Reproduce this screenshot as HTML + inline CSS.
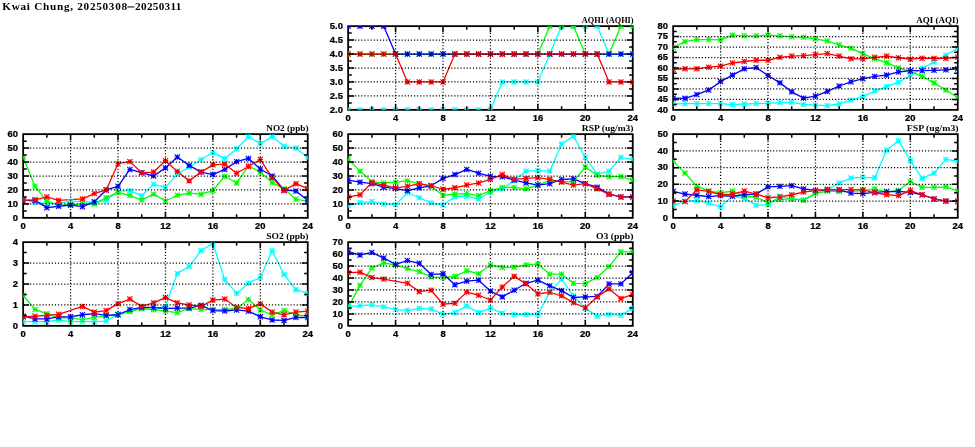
<!DOCTYPE html><html><head><meta charset="utf-8"><style>html,body{margin:0;padding:0;background:#fff;width:975px;height:447px;overflow:hidden}svg{display:block;will-change:transform}</style></head><body>
<svg width="975" height="447" viewBox="0 0 975 447">
<rect width="975" height="447" fill="#fff"/>
<g font-family="Liberation Serif" font-weight="bold" font-size="11.2" fill="#000"><text x="2.3" y="10.4" textLength="124.8" lengthAdjust="spacing">Kwai Chung, 20250308</text><rect x="127.3" y="6.4" width="7" height="1.05"/><text x="135.1" y="10.4" textLength="46.2" lengthAdjust="spacing">20250311</text></g>
<defs><clipPath id="c0"><rect x="23.15" y="134.15" width="284.6" height="83.7"/></clipPath><clipPath id="c1"><rect x="23.15" y="242.15" width="284.6" height="83.7"/></clipPath><clipPath id="c2"><rect x="348.15" y="26.15" width="284.6" height="83.7"/></clipPath><clipPath id="c3"><rect x="348.15" y="134.15" width="284.6" height="83.7"/></clipPath><clipPath id="c4"><rect x="348.15" y="242.15" width="284.6" height="83.7"/></clipPath><clipPath id="c5"><rect x="673.15" y="26.15" width="284.6" height="83.7"/></clipPath><clipPath id="c6"><rect x="673.15" y="134.15" width="284.6" height="83.7"/></clipPath></defs>
<g clip-path="url(#c0)"><polyline fill="none" stroke="#00ffff" stroke-width="1.3" stroke-linejoin="round" points="23.15,199.02 35.01,202.51 46.87,203.48 58.73,203.48 70.58,201.39 82.44,201.39 94.3,202.51 106.16,200.41 118.02,191.35 129.88,190.65 141.73,195.67 153.59,184.23 165.45,187.44 177.31,174.19 189.17,166.93 201.03,159.54 212.88,152.56 224.74,158.42 236.6,148.94 248.46,136.52 260.32,143.92 272.18,136.52 284.03,146.29 295.89,148.1 307.75,157.45"/><polyline fill="none" stroke="#00ff00" stroke-width="1.3" stroke-linejoin="round" points="23.15,157.45 35.01,186.32 46.87,201.39 58.73,205.3 70.58,204.6 82.44,203.9 94.3,203.9 106.16,197.62 118.02,192.46 129.88,195.53 141.73,199.99 153.59,194.14 165.45,200.97 177.31,195.25 189.17,193.16 201.03,194.14 212.88,190.65 224.74,176.28 236.6,182.98 248.46,165.82 260.32,172.09 272.18,182.56 284.03,188.83 295.89,199.3 307.75,201.11"/><polyline fill="none" stroke="#0000ff" stroke-width="1.3" stroke-linejoin="round" points="23.15,200.41 35.01,200.41 46.87,207.67 58.73,206.27 70.58,205.16 82.44,206.69 94.3,201.81 106.16,189.95 118.02,186.32 129.88,169.44 141.73,172.65 153.59,176 165.45,167.91 177.31,157.03 189.17,165.4 201.03,172.09 212.88,174.61 224.74,169.44 236.6,161.63 248.46,158.42 260.32,169.03 272.18,176 284.03,189.95 295.89,191.07 307.75,200.41"/><polyline fill="none" stroke="#ff0000" stroke-width="1.3" stroke-linejoin="round" points="23.15,200.41 35.01,199.85 46.87,196.93 58.73,200.41 82.44,198.88 94.3,193.58 106.16,189.95 118.02,163.72 129.88,161.63 141.73,172.65 153.59,172.09 165.45,160.66 177.31,171.4 189.17,180.88 201.03,172.09 212.88,164.84 224.74,164.14 236.6,173.21 248.46,166.51 260.32,159.54 272.18,177.67 284.03,190.65 295.89,183.67 307.75,188.56"/></g><rect x="23.15" y="134.15" width="284.6" height="83.7" fill="none" stroke="#000" stroke-width="1.8"/><g clip-path="url(#c0)"><path fill="none" stroke="#00ffff" stroke-width="1.1" d="M20.55 196.42L25.75 201.62M20.55 201.62L25.75 196.42M20.55 199.02L25.75 199.02M23.15 196.42L23.15 201.62M32.41 199.91L37.61 205.11M32.41 205.11L37.61 199.91M32.41 202.51L37.61 202.51M35.01 199.91L35.01 205.11M44.27 200.88L49.47 206.08M44.27 206.08L49.47 200.88M44.27 203.48L49.47 203.48M46.87 200.88L46.87 206.08M56.12 200.88L61.33 206.08M56.12 206.08L61.33 200.88M56.12 203.48L61.33 203.48M58.73 200.88L58.73 206.08M67.98 198.79L73.18 203.99M67.98 203.99L73.18 198.79M67.98 201.39L73.18 201.39M70.58 198.79L70.58 203.99M79.84 198.79L85.04 203.99M79.84 203.99L85.04 198.79M79.84 201.39L85.04 201.39M82.44 198.79L82.44 203.99M91.7 199.91L96.9 205.11M91.7 205.11L96.9 199.91M91.7 202.51L96.9 202.51M94.3 199.91L94.3 205.11M103.56 197.81L108.76 203.01M103.56 203.01L108.76 197.81M103.56 200.41L108.76 200.41M106.16 197.81L106.16 203.01M115.42 188.75L120.62 193.95M115.42 193.95L120.62 188.75M115.42 191.35L120.62 191.35M118.02 188.75L118.02 193.95M127.28 188.05L132.47 193.25M127.28 193.25L132.47 188.05M127.28 190.65L132.47 190.65M129.88 188.05L129.88 193.25M139.13 193.07L144.33 198.27M139.13 198.27L144.33 193.07M139.13 195.67L144.33 195.67M141.73 193.07L141.73 198.27M150.99 181.63L156.19 186.83M150.99 186.83L156.19 181.63M150.99 184.23L156.19 184.23M153.59 181.63L153.59 186.83M162.85 184.84L168.05 190.04M162.85 190.04L168.05 184.84M162.85 187.44L168.05 187.44M165.45 184.84L165.45 190.04M174.71 171.59L179.91 176.79M174.71 176.79L179.91 171.59M174.71 174.19L179.91 174.19M177.31 171.59L177.31 176.79M186.57 164.33L191.77 169.53M186.57 169.53L191.77 164.33M186.57 166.93L191.77 166.93M189.17 164.33L189.17 169.53M198.43 156.94L203.62 162.14M198.43 162.14L203.62 156.94M198.43 159.54L203.62 159.54M201.03 156.94L201.03 162.14M210.28 149.96L215.48 155.16M210.28 155.16L215.48 149.96M210.28 152.56L215.48 152.56M212.88 149.96L212.88 155.16M222.14 155.82L227.34 161.02M222.14 161.02L227.34 155.82M222.14 158.42L227.34 158.42M224.74 155.82L224.74 161.02M234 146.34L239.2 151.54M234 151.54L239.2 146.34M234 148.94L239.2 148.94M236.6 146.34L236.6 151.54M245.86 133.92L251.06 139.12M245.86 139.12L251.06 133.92M245.86 136.52L251.06 136.52M248.46 133.92L248.46 139.12M257.72 141.32L262.92 146.52M257.72 146.52L262.92 141.32M257.72 143.92L262.92 143.92M260.32 141.32L260.32 146.52M269.57 133.92L274.78 139.12M269.57 139.12L274.78 133.92M269.57 136.52L274.78 136.52M272.18 133.92L272.18 139.12M281.43 143.69L286.63 148.89M281.43 148.89L286.63 143.69M281.43 146.29L286.63 146.29M284.03 143.69L284.03 148.89M293.29 145.5L298.49 150.7M293.29 150.7L298.49 145.5M293.29 148.1L298.49 148.1M295.89 145.5L295.89 150.7M305.15 154.85L310.35 160.05M305.15 160.05L310.35 154.85M305.15 157.45L310.35 157.45M307.75 154.85L307.75 160.05"/><path fill="none" stroke="#00ff00" stroke-width="1.1" d="M20.55 154.85L25.75 160.05M20.55 160.05L25.75 154.85M20.55 157.45L25.75 157.45M23.15 154.85L23.15 160.05M32.41 183.72L37.61 188.92M32.41 188.92L37.61 183.72M32.41 186.32L37.61 186.32M35.01 183.72L35.01 188.92M44.27 198.79L49.47 203.99M44.27 203.99L49.47 198.79M44.27 201.39L49.47 201.39M46.87 198.79L46.87 203.99M56.12 202.7L61.33 207.9M56.12 207.9L61.33 202.7M56.12 205.3L61.33 205.3M58.73 202.7L58.73 207.9M67.98 202L73.18 207.2M67.98 207.2L73.18 202M67.98 204.6L73.18 204.6M70.58 202L70.58 207.2M79.84 201.3L85.04 206.5M79.84 206.5L85.04 201.3M79.84 203.9L85.04 203.9M82.44 201.3L82.44 206.5M91.7 201.3L96.9 206.5M91.7 206.5L96.9 201.3M91.7 203.9L96.9 203.9M94.3 201.3L94.3 206.5M103.56 195.02L108.76 200.22M103.56 200.22L108.76 195.02M103.56 197.62L108.76 197.62M106.16 195.02L106.16 200.22M115.42 189.86L120.62 195.06M115.42 195.06L120.62 189.86M115.42 192.46L120.62 192.46M118.02 189.86L118.02 195.06M127.28 192.93L132.47 198.13M127.28 198.13L132.47 192.93M127.28 195.53L132.47 195.53M129.88 192.93L129.88 198.13M139.13 197.39L144.33 202.59M139.13 202.59L144.33 197.39M139.13 199.99L144.33 199.99M141.73 197.39L141.73 202.59M150.99 191.54L156.19 196.74M150.99 196.74L156.19 191.54M150.99 194.14L156.19 194.14M153.59 191.54L153.59 196.74M162.85 198.37L168.05 203.57M162.85 203.57L168.05 198.37M162.85 200.97L168.05 200.97M165.45 198.37L165.45 203.57M174.71 192.65L179.91 197.85M174.71 197.85L179.91 192.65M174.71 195.25L179.91 195.25M177.31 192.65L177.31 197.85M186.57 190.56L191.77 195.76M186.57 195.76L191.77 190.56M186.57 193.16L191.77 193.16M189.17 190.56L189.17 195.76M198.43 191.54L203.62 196.74M198.43 196.74L203.62 191.54M198.43 194.14L203.62 194.14M201.03 191.54L201.03 196.74M210.28 188.05L215.48 193.25M210.28 193.25L215.48 188.05M210.28 190.65L215.48 190.65M212.88 188.05L212.88 193.25M222.14 173.68L227.34 178.88M222.14 178.88L227.34 173.68M222.14 176.28L227.34 176.28M224.74 173.68L224.74 178.88M234 180.38L239.2 185.58M234 185.58L239.2 180.38M234 182.98L239.2 182.98M236.6 180.38L236.6 185.58M245.86 163.22L251.06 168.42M245.86 168.42L251.06 163.22M245.86 165.82L251.06 165.82M248.46 163.22L248.46 168.42M257.72 169.49L262.92 174.69M257.72 174.69L262.92 169.49M257.72 172.09L262.92 172.09M260.32 169.49L260.32 174.69M269.57 179.96L274.78 185.16M269.57 185.16L274.78 179.96M269.57 182.56L274.78 182.56M272.18 179.96L272.18 185.16M281.43 186.23L286.63 191.43M281.43 191.43L286.63 186.23M281.43 188.83L286.63 188.83M284.03 186.23L284.03 191.43M293.29 196.7L298.49 201.9M293.29 201.9L298.49 196.7M293.29 199.3L298.49 199.3M295.89 196.7L295.89 201.9M305.15 198.51L310.35 203.71M305.15 203.71L310.35 198.51M305.15 201.11L310.35 201.11M307.75 198.51L307.75 203.71"/><path fill="none" stroke="#0000ff" stroke-width="1.1" d="M20.55 197.81L25.75 203.01M20.55 203.01L25.75 197.81M20.55 200.41L25.75 200.41M23.15 197.81L23.15 203.01M32.41 197.81L37.61 203.01M32.41 203.01L37.61 197.81M32.41 200.41L37.61 200.41M35.01 197.81L35.01 203.01M44.27 205.07L49.47 210.27M44.27 210.27L49.47 205.07M44.27 207.67L49.47 207.67M46.87 205.07L46.87 210.27M56.12 203.67L61.33 208.87M56.12 208.87L61.33 203.67M56.12 206.27L61.33 206.27M58.73 203.67L58.73 208.87M67.98 202.56L73.18 207.76M67.98 207.76L73.18 202.56M67.98 205.16L73.18 205.16M70.58 202.56L70.58 207.76M79.84 204.09L85.04 209.29M79.84 209.29L85.04 204.09M79.84 206.69L85.04 206.69M82.44 204.09L82.44 209.29M91.7 199.21L96.9 204.41M91.7 204.41L96.9 199.21M91.7 201.81L96.9 201.81M94.3 199.21L94.3 204.41M103.56 187.35L108.76 192.55M103.56 192.55L108.76 187.35M103.56 189.95L108.76 189.95M106.16 187.35L106.16 192.55M115.42 183.72L120.62 188.92M115.42 188.92L120.62 183.72M115.42 186.32L120.62 186.32M118.02 183.72L118.02 188.92M127.28 166.84L132.47 172.04M127.28 172.04L132.47 166.84M127.28 169.44L132.47 169.44M129.88 166.84L129.88 172.04M139.13 170.05L144.33 175.25M139.13 175.25L144.33 170.05M139.13 172.65L144.33 172.65M141.73 170.05L141.73 175.25M150.99 173.4L156.19 178.6M150.99 178.6L156.19 173.4M150.99 176L156.19 176M153.59 173.4L153.59 178.6M162.85 165.31L168.05 170.51M162.85 170.51L168.05 165.31M162.85 167.91L168.05 167.91M165.45 165.31L165.45 170.51M174.71 154.43L179.91 159.63M174.71 159.63L179.91 154.43M174.71 157.03L179.91 157.03M177.31 154.43L177.31 159.63M186.57 162.8L191.77 168M186.57 168L191.77 162.8M186.57 165.4L191.77 165.4M189.17 162.8L189.17 168M198.43 169.49L203.62 174.69M198.43 174.69L203.62 169.49M198.43 172.09L203.62 172.09M201.03 169.49L201.03 174.69M210.28 172.01L215.48 177.21M210.28 177.21L215.48 172.01M210.28 174.61L215.48 174.61M212.88 172.01L212.88 177.21M222.14 166.84L227.34 172.04M222.14 172.04L227.34 166.84M222.14 169.44L227.34 169.44M224.74 166.84L224.74 172.04M234 159.03L239.2 164.23M234 164.23L239.2 159.03M234 161.63L239.2 161.63M236.6 159.03L236.6 164.23M245.86 155.82L251.06 161.02M245.86 161.02L251.06 155.82M245.86 158.42L251.06 158.42M248.46 155.82L248.46 161.02M257.72 166.43L262.92 171.63M257.72 171.63L262.92 166.43M257.72 169.03L262.92 169.03M260.32 166.43L260.32 171.63M269.57 173.4L274.78 178.6M269.57 178.6L274.78 173.4M269.57 176L274.78 176M272.18 173.4L272.18 178.6M281.43 187.35L286.63 192.55M281.43 192.55L286.63 187.35M281.43 189.95L286.63 189.95M284.03 187.35L284.03 192.55M293.29 188.47L298.49 193.67M293.29 193.67L298.49 188.47M293.29 191.07L298.49 191.07M295.89 188.47L295.89 193.67M305.15 197.81L310.35 203.01M305.15 203.01L310.35 197.81M305.15 200.41L310.35 200.41M307.75 197.81L307.75 203.01"/><path fill="none" stroke="#ff0000" stroke-width="1.1" d="M20.55 197.81L25.75 203.01M20.55 203.01L25.75 197.81M20.55 200.41L25.75 200.41M23.15 197.81L23.15 203.01M32.41 197.25L37.61 202.45M32.41 202.45L37.61 197.25M32.41 199.85L37.61 199.85M35.01 197.25L35.01 202.45M44.27 194.33L49.47 199.53M44.27 199.53L49.47 194.33M44.27 196.93L49.47 196.93M46.87 194.33L46.87 199.53M56.12 197.81L61.33 203.01M56.12 203.01L61.33 197.81M56.12 200.41L61.33 200.41M58.73 197.81L58.73 203.01M79.84 196.28L85.04 201.48M79.84 201.48L85.04 196.28M79.84 198.88L85.04 198.88M82.44 196.28L82.44 201.48M91.7 190.98L96.9 196.18M91.7 196.18L96.9 190.98M91.7 193.58L96.9 193.58M94.3 190.98L94.3 196.18M103.56 187.35L108.76 192.55M103.56 192.55L108.76 187.35M103.56 189.95L108.76 189.95M106.16 187.35L106.16 192.55M115.42 161.12L120.62 166.32M115.42 166.32L120.62 161.12M115.42 163.72L120.62 163.72M118.02 161.12L118.02 166.32M127.28 159.03L132.47 164.23M127.28 164.23L132.47 159.03M127.28 161.63L132.47 161.63M129.88 159.03L129.88 164.23M139.13 170.05L144.33 175.25M139.13 175.25L144.33 170.05M139.13 172.65L144.33 172.65M141.73 170.05L141.73 175.25M150.99 169.49L156.19 174.69M150.99 174.69L156.19 169.49M150.99 172.09L156.19 172.09M153.59 169.49L153.59 174.69M162.85 158.06L168.05 163.26M162.85 163.26L168.05 158.06M162.85 160.66L168.05 160.66M165.45 158.06L165.45 163.26M174.71 168.8L179.91 174M174.71 174L179.91 168.8M174.71 171.4L179.91 171.4M177.31 168.8L177.31 174M186.57 178.28L191.77 183.48M186.57 183.48L191.77 178.28M186.57 180.88L191.77 180.88M189.17 178.28L189.17 183.48M198.43 169.49L203.62 174.69M198.43 174.69L203.62 169.49M198.43 172.09L203.62 172.09M201.03 169.49L201.03 174.69M210.28 162.24L215.48 167.44M210.28 167.44L215.48 162.24M210.28 164.84L215.48 164.84M212.88 162.24L212.88 167.44M222.14 161.54L227.34 166.74M222.14 166.74L227.34 161.54M222.14 164.14L227.34 164.14M224.74 161.54L224.74 166.74M234 170.61L239.2 175.81M234 175.81L239.2 170.61M234 173.21L239.2 173.21M236.6 170.61L236.6 175.81M245.86 163.91L251.06 169.11M245.86 169.11L251.06 163.91M245.86 166.51L251.06 166.51M248.46 163.91L248.46 169.11M257.72 156.94L262.92 162.14M257.72 162.14L262.92 156.94M257.72 159.54L262.92 159.54M260.32 156.94L260.32 162.14M269.57 175.07L274.78 180.27M269.57 180.27L274.78 175.07M269.57 177.67L274.78 177.67M272.18 175.07L272.18 180.27M281.43 188.05L286.63 193.25M281.43 193.25L286.63 188.05M281.43 190.65L286.63 190.65M284.03 188.05L284.03 193.25M293.29 181.07L298.49 186.27M293.29 186.27L298.49 181.07M293.29 183.67L298.49 183.67M295.89 181.07L295.89 186.27M305.15 185.96L310.35 191.16M305.15 191.16L310.35 185.96M305.15 188.56L310.35 188.56M307.75 185.96L307.75 191.16"/></g><path fill="none" stroke="#000" stroke-width="1.25" stroke-dasharray="1.15 1.95" stroke-dashoffset="-0.76" d="M23.15 203.9H307.75M23.15 189.95H307.75M23.15 176H307.75M23.15 162.05H307.75M23.15 148.1H307.75"/><path fill="none" stroke="#000" stroke-width="1.25" stroke-dasharray="1.15 1.95" stroke-dashoffset="-0.42" d="M70.58 134.15V217.85M118.02 134.15V217.85M165.45 134.15V217.85M212.88 134.15V217.85M260.32 134.15V217.85"/><path fill="none" stroke="#000" stroke-width="1.5" d="M23.15 210.88h3.6M307.75 210.88h-3.6M23.15 203.9h6M307.75 203.9h-6M23.15 196.93h3.6M307.75 196.93h-3.6M23.15 189.95h6M307.75 189.95h-6M23.15 182.98h3.6M307.75 182.98h-3.6M23.15 176h6M307.75 176h-6M23.15 169.03h3.6M307.75 169.03h-3.6M23.15 162.05h6M307.75 162.05h-6M23.15 155.08h3.6M307.75 155.08h-3.6M23.15 148.1h6M307.75 148.1h-6M23.15 141.13h3.6M307.75 141.13h-3.6M46.87 217.85v-3.6M46.87 134.15v3.6M70.58 217.85v-6M70.58 134.15v6M94.3 217.85v-3.6M94.3 134.15v3.6M118.02 217.85v-6M118.02 134.15v6M141.73 217.85v-3.6M141.73 134.15v3.6M165.45 217.85v-6M165.45 134.15v6M189.17 217.85v-3.6M189.17 134.15v3.6M212.88 217.85v-6M212.88 134.15v6M236.6 217.85v-3.6M236.6 134.15v3.6M260.32 217.85v-6M260.32 134.15v6M284.03 217.85v-3.6M284.03 134.15v3.6"/><g font-family="Liberation Sans" font-weight="bold" font-size="8.2" stroke="#000" stroke-width="0.25" fill="#000"><text transform="translate(17.95 220.7) scale(1.15 1)" text-anchor="end">0</text><text transform="translate(17.95 206.75) scale(1.15 1)" text-anchor="end">10</text><text transform="translate(17.95 192.8) scale(1.15 1)" text-anchor="end">20</text><text transform="translate(17.95 178.85) scale(1.15 1)" text-anchor="end">30</text><text transform="translate(17.95 164.9) scale(1.15 1)" text-anchor="end">40</text><text transform="translate(17.95 150.95) scale(1.15 1)" text-anchor="end">50</text><text transform="translate(17.95 137) scale(1.15 1)" text-anchor="end">60</text><text transform="translate(23.15 228.85) scale(1.15 1)" text-anchor="middle">0</text><text transform="translate(70.58 228.85) scale(1.15 1)" text-anchor="middle">4</text><text transform="translate(118.02 228.85) scale(1.15 1)" text-anchor="middle">8</text><text transform="translate(165.45 228.85) scale(1.15 1)" text-anchor="middle">12</text><text transform="translate(212.88 228.85) scale(1.15 1)" text-anchor="middle">16</text><text transform="translate(260.32 228.85) scale(1.15 1)" text-anchor="middle">20</text><text transform="translate(307.75 228.85) scale(1.15 1)" text-anchor="middle">24</text></g><text x="308.55" y="130.75" text-anchor="end" font-family="Liberation Serif" font-weight="bold" font-size="8.6" textLength="42.3" lengthAdjust="spacingAndGlyphs" fill="#000">NO2 (ppb)</text>
<g clip-path="url(#c1)"><polyline fill="none" stroke="#00ffff" stroke-width="1.3" stroke-linejoin="round" points="23.15,321.67 35.01,321.67 46.87,321.67 58.73,319.99 70.58,321.67 82.44,321.67 94.3,321.67 106.16,321.04 118.02,314.13 129.88,311.2 141.73,308.48 153.59,309.53 165.45,306.39 177.31,273.54 189.17,266.63 201.03,250.52 212.88,243.61 224.74,279.61 236.6,293.42 248.46,283.16 260.32,277.51 272.18,250.73 284.03,274.37 295.89,289.65 307.75,293.42"/><polyline fill="none" stroke="#00ff00" stroke-width="1.3" stroke-linejoin="round" points="23.15,295.3 35.01,309.53 46.87,313.71 58.73,317.9 70.58,317.9 82.44,319.57 94.3,317.48 106.16,315.81 118.02,314.76 129.88,311.62 141.73,308.48 153.59,309.53 165.45,311.2 177.31,312.67 189.17,308.48 201.03,309.53 212.88,309.53 224.74,309.53 236.6,308.48 248.46,299.48 260.32,309.95 272.18,314.76 284.03,310.57 295.89,314.76 307.75,316.22"/><polyline fill="none" stroke="#0000ff" stroke-width="1.3" stroke-linejoin="round" points="23.15,316.22 35.01,318.94 46.87,318.94 58.73,316.85 70.58,316.85 82.44,314.76 94.3,313.71 106.16,315.39 118.02,314.76 129.88,309.53 141.73,307.44 153.59,307.44 165.45,308.48 177.31,308.06 189.17,308.06 201.03,305.34 212.88,310.57 224.74,310.99 236.6,309.95 248.46,311.2 260.32,316.85 272.18,319.99 284.03,320.41 295.89,317.48 307.75,317.48"/><polyline fill="none" stroke="#ff0000" stroke-width="1.3" stroke-linejoin="round" points="23.15,316.85 35.01,316.22 46.87,315.39 58.73,314.34 82.44,306.39 94.3,312.04 106.16,310.57 118.02,303.67 129.88,299.07 141.73,306.39 153.59,302.83 165.45,297.6 177.31,302.83 189.17,304.93 201.03,306.39 212.88,300.11 224.74,299.07 236.6,307.44 248.46,308.48 260.32,303.88 272.18,312.04 284.03,314.76 295.89,312.04 307.75,311.2"/></g><rect x="23.15" y="242.15" width="284.6" height="83.7" fill="none" stroke="#000" stroke-width="1.8"/><g clip-path="url(#c1)"><path fill="none" stroke="#00ffff" stroke-width="1.1" d="M20.55 319.06L25.75 324.27M20.55 324.27L25.75 319.06M20.55 321.67L25.75 321.67M23.15 319.06L23.15 324.27M32.41 319.06L37.61 324.27M32.41 324.27L37.61 319.06M32.41 321.67L37.61 321.67M35.01 319.06L35.01 324.27M44.27 319.06L49.47 324.27M44.27 324.27L49.47 319.06M44.27 321.67L49.47 321.67M46.87 319.06L46.87 324.27M56.12 317.39L61.33 322.59M56.12 322.59L61.33 317.39M56.12 319.99L61.33 319.99M58.73 317.39L58.73 322.59M67.98 319.06L73.18 324.27M67.98 324.27L73.18 319.06M67.98 321.67L73.18 321.67M70.58 319.06L70.58 324.27M79.84 319.06L85.04 324.27M79.84 324.27L85.04 319.06M79.84 321.67L85.04 321.67M82.44 319.06L82.44 324.27M91.7 319.06L96.9 324.27M91.7 324.27L96.9 319.06M91.7 321.67L96.9 321.67M94.3 319.06L94.3 324.27M103.56 318.44L108.76 323.64M103.56 323.64L108.76 318.44M103.56 321.04L108.76 321.04M106.16 318.44L106.16 323.64M115.42 311.53L120.62 316.73M115.42 316.73L120.62 311.53M115.42 314.13L120.62 314.13M118.02 311.53L118.02 316.73M127.28 308.6L132.47 313.8M127.28 313.8L132.47 308.6M127.28 311.2L132.47 311.2M129.88 308.6L129.88 313.8M139.13 305.88L144.33 311.08M139.13 311.08L144.33 305.88M139.13 308.48L144.33 308.48M141.73 305.88L141.73 311.08M150.99 306.93L156.19 312.13M150.99 312.13L156.19 306.93M150.99 309.53L156.19 309.53M153.59 306.93L153.59 312.13M162.85 303.79L168.05 308.99M162.85 308.99L168.05 303.79M162.85 306.39L168.05 306.39M165.45 303.79L165.45 308.99M174.71 270.94L179.91 276.14M174.71 276.14L179.91 270.94M174.71 273.54L179.91 273.54M177.31 270.94L177.31 276.14M186.57 264.03L191.77 269.23M186.57 269.23L191.77 264.03M186.57 266.63L191.77 266.63M189.17 264.03L189.17 269.23M198.43 247.92L203.62 253.12M198.43 253.12L203.62 247.92M198.43 250.52L203.62 250.52M201.03 247.92L201.03 253.12M210.28 241.01L215.48 246.21M210.28 246.21L215.48 241.01M210.28 243.61L215.48 243.61M212.88 241.01L212.88 246.21M222.14 277.01L227.34 282.21M222.14 282.21L227.34 277.01M222.14 279.61L227.34 279.61M224.74 277.01L224.74 282.21M234 290.82L239.2 296.02M234 296.02L239.2 290.82M234 293.42L239.2 293.42M236.6 290.82L236.6 296.02M245.86 280.56L251.06 285.76M245.86 285.76L251.06 280.56M245.86 283.16L251.06 283.16M248.46 280.56L248.46 285.76M257.72 274.91L262.92 280.11M257.72 280.11L262.92 274.91M257.72 277.51L262.92 277.51M260.32 274.91L260.32 280.11M269.57 248.13L274.78 253.33M269.57 253.33L274.78 248.13M269.57 250.73L274.78 250.73M272.18 248.13L272.18 253.33M281.43 271.77L286.63 276.97M281.43 276.97L286.63 271.77M281.43 274.37L286.63 274.37M284.03 271.77L284.03 276.97M293.29 287.05L298.49 292.25M293.29 292.25L298.49 287.05M293.29 289.65L298.49 289.65M295.89 287.05L295.89 292.25M305.15 290.82L310.35 296.02M305.15 296.02L310.35 290.82M305.15 293.42L310.35 293.42M307.75 290.82L307.75 296.02"/><path fill="none" stroke="#00ff00" stroke-width="1.1" d="M20.55 292.7L25.75 297.9M20.55 297.9L25.75 292.7M20.55 295.3L25.75 295.3M23.15 292.7L23.15 297.9M32.41 306.93L37.61 312.13M32.41 312.13L37.61 306.93M32.41 309.53L37.61 309.53M35.01 306.93L35.01 312.13M44.27 311.11L49.47 316.31M44.27 316.31L49.47 311.11M44.27 313.71L49.47 313.71M46.87 311.11L46.87 316.31M56.12 315.3L61.33 320.5M56.12 320.5L61.33 315.3M56.12 317.9L61.33 317.9M58.73 315.3L58.73 320.5M67.98 315.3L73.18 320.5M67.98 320.5L73.18 315.3M67.98 317.9L73.18 317.9M70.58 315.3L70.58 320.5M79.84 316.97L85.04 322.17M79.84 322.17L85.04 316.97M79.84 319.57L85.04 319.57M82.44 316.97L82.44 322.17M91.7 314.88L96.9 320.08M91.7 320.08L96.9 314.88M91.7 317.48L96.9 317.48M94.3 314.88L94.3 320.08M103.56 313.21L108.76 318.41M103.56 318.41L108.76 313.21M103.56 315.81L108.76 315.81M106.16 313.21L106.16 318.41M115.42 312.16L120.62 317.36M115.42 317.36L120.62 312.16M115.42 314.76L120.62 314.76M118.02 312.16L118.02 317.36M127.28 309.02L132.47 314.22M127.28 314.22L132.47 309.02M127.28 311.62L132.47 311.62M129.88 309.02L129.88 314.22M139.13 305.88L144.33 311.08M139.13 311.08L144.33 305.88M139.13 308.48L144.33 308.48M141.73 305.88L141.73 311.08M150.99 306.93L156.19 312.13M150.99 312.13L156.19 306.93M150.99 309.53L156.19 309.53M153.59 306.93L153.59 312.13M162.85 308.6L168.05 313.8M162.85 313.8L168.05 308.6M162.85 311.2L168.05 311.2M165.45 308.6L165.45 313.8M174.71 310.07L179.91 315.27M174.71 315.27L179.91 310.07M174.71 312.67L179.91 312.67M177.31 310.07L177.31 315.27M186.57 305.88L191.77 311.08M186.57 311.08L191.77 305.88M186.57 308.48L191.77 308.48M189.17 305.88L189.17 311.08M198.43 306.93L203.62 312.13M198.43 312.13L203.62 306.93M198.43 309.53L203.62 309.53M201.03 306.93L201.03 312.13M210.28 306.93L215.48 312.13M210.28 312.13L215.48 306.93M210.28 309.53L215.48 309.53M212.88 306.93L212.88 312.13M222.14 306.93L227.34 312.13M222.14 312.13L227.34 306.93M222.14 309.53L227.34 309.53M224.74 306.93L224.74 312.13M234 305.88L239.2 311.08M234 311.08L239.2 305.88M234 308.48L239.2 308.48M236.6 305.88L236.6 311.08M245.86 296.88L251.06 302.08M245.86 302.08L251.06 296.88M245.86 299.48L251.06 299.48M248.46 296.88L248.46 302.08M257.72 307.35L262.92 312.55M257.72 312.55L262.92 307.35M257.72 309.95L262.92 309.95M260.32 307.35L260.32 312.55M269.57 312.16L274.78 317.36M269.57 317.36L274.78 312.16M269.57 314.76L274.78 314.76M272.18 312.16L272.18 317.36M281.43 307.97L286.63 313.17M281.43 313.17L286.63 307.97M281.43 310.57L286.63 310.57M284.03 307.97L284.03 313.17M293.29 312.16L298.49 317.36M293.29 317.36L298.49 312.16M293.29 314.76L298.49 314.76M295.89 312.16L295.89 317.36M305.15 313.62L310.35 318.82M305.15 318.82L310.35 313.62M305.15 316.22L310.35 316.22M307.75 313.62L307.75 318.82"/><path fill="none" stroke="#0000ff" stroke-width="1.1" d="M20.55 313.62L25.75 318.82M20.55 318.82L25.75 313.62M20.55 316.22L25.75 316.22M23.15 313.62L23.15 318.82M32.41 316.34L37.61 321.54M32.41 321.54L37.61 316.34M32.41 318.94L37.61 318.94M35.01 316.34L35.01 321.54M44.27 316.34L49.47 321.54M44.27 321.54L49.47 316.34M44.27 318.94L49.47 318.94M46.87 316.34L46.87 321.54M56.12 314.25L61.33 319.45M56.12 319.45L61.33 314.25M56.12 316.85L61.33 316.85M58.73 314.25L58.73 319.45M67.98 314.25L73.18 319.45M67.98 319.45L73.18 314.25M67.98 316.85L73.18 316.85M70.58 314.25L70.58 319.45M79.84 312.16L85.04 317.36M79.84 317.36L85.04 312.16M79.84 314.76L85.04 314.76M82.44 312.16L82.44 317.36M91.7 311.11L96.9 316.31M91.7 316.31L96.9 311.11M91.7 313.71L96.9 313.71M94.3 311.11L94.3 316.31M103.56 312.79L108.76 317.99M103.56 317.99L108.76 312.79M103.56 315.39L108.76 315.39M106.16 312.79L106.16 317.99M115.42 312.16L120.62 317.36M115.42 317.36L120.62 312.16M115.42 314.76L120.62 314.76M118.02 312.16L118.02 317.36M127.28 306.93L132.47 312.13M127.28 312.13L132.47 306.93M127.28 309.53L132.47 309.53M129.88 306.93L129.88 312.13M139.13 304.84L144.33 310.04M139.13 310.04L144.33 304.84M139.13 307.44L144.33 307.44M141.73 304.84L141.73 310.04M150.99 304.84L156.19 310.04M150.99 310.04L156.19 304.84M150.99 307.44L156.19 307.44M153.59 304.84L153.59 310.04M162.85 305.88L168.05 311.08M162.85 311.08L168.05 305.88M162.85 308.48L168.05 308.48M165.45 305.88L165.45 311.08M174.71 305.46L179.91 310.66M174.71 310.66L179.91 305.46M174.71 308.06L179.91 308.06M177.31 305.46L177.31 310.66M186.57 305.46L191.77 310.66M186.57 310.66L191.77 305.46M186.57 308.06L191.77 308.06M189.17 305.46L189.17 310.66M198.43 302.74L203.62 307.94M198.43 307.94L203.62 302.74M198.43 305.34L203.62 305.34M201.03 302.74L201.03 307.94M210.28 307.97L215.48 313.17M210.28 313.17L215.48 307.97M210.28 310.57L215.48 310.57M212.88 307.97L212.88 313.17M222.14 308.39L227.34 313.59M222.14 313.59L227.34 308.39M222.14 310.99L227.34 310.99M224.74 308.39L224.74 313.59M234 307.35L239.2 312.55M234 312.55L239.2 307.35M234 309.95L239.2 309.95M236.6 307.35L236.6 312.55M245.86 308.6L251.06 313.8M245.86 313.8L251.06 308.6M245.86 311.2L251.06 311.2M248.46 308.6L248.46 313.8M257.72 314.25L262.92 319.45M257.72 319.45L262.92 314.25M257.72 316.85L262.92 316.85M260.32 314.25L260.32 319.45M269.57 317.39L274.78 322.59M269.57 322.59L274.78 317.39M269.57 319.99L274.78 319.99M272.18 317.39L272.18 322.59M281.43 317.81L286.63 323.01M281.43 323.01L286.63 317.81M281.43 320.41L286.63 320.41M284.03 317.81L284.03 323.01M293.29 314.88L298.49 320.08M293.29 320.08L298.49 314.88M293.29 317.48L298.49 317.48M295.89 314.88L295.89 320.08M305.15 314.88L310.35 320.08M305.15 320.08L310.35 314.88M305.15 317.48L310.35 317.48M307.75 314.88L307.75 320.08"/><path fill="none" stroke="#ff0000" stroke-width="1.1" d="M20.55 314.25L25.75 319.45M20.55 319.45L25.75 314.25M20.55 316.85L25.75 316.85M23.15 314.25L23.15 319.45M32.41 313.62L37.61 318.82M32.41 318.82L37.61 313.62M32.41 316.22L37.61 316.22M35.01 313.62L35.01 318.82M44.27 312.79L49.47 317.99M44.27 317.99L49.47 312.79M44.27 315.39L49.47 315.39M46.87 312.79L46.87 317.99M56.12 311.74L61.33 316.94M56.12 316.94L61.33 311.74M56.12 314.34L61.33 314.34M58.73 311.74L58.73 316.94M79.84 303.79L85.04 308.99M79.84 308.99L85.04 303.79M79.84 306.39L85.04 306.39M82.44 303.79L82.44 308.99M91.7 309.44L96.9 314.64M91.7 314.64L96.9 309.44M91.7 312.04L96.9 312.04M94.3 309.44L94.3 314.64M103.56 307.97L108.76 313.17M103.56 313.17L108.76 307.97M103.56 310.57L108.76 310.57M106.16 307.97L106.16 313.17M115.42 301.07L120.62 306.27M115.42 306.27L120.62 301.07M115.42 303.67L120.62 303.67M118.02 301.07L118.02 306.27M127.28 296.47L132.47 301.67M127.28 301.67L132.47 296.47M127.28 299.07L132.47 299.07M129.88 296.47L129.88 301.67M139.13 303.79L144.33 308.99M139.13 308.99L144.33 303.79M139.13 306.39L144.33 306.39M141.73 303.79L141.73 308.99M150.99 300.23L156.19 305.43M150.99 305.43L156.19 300.23M150.99 302.83L156.19 302.83M153.59 300.23L153.59 305.43M162.85 295L168.05 300.2M162.85 300.2L168.05 295M162.85 297.6L168.05 297.6M165.45 295L165.45 300.2M174.71 300.23L179.91 305.43M174.71 305.43L179.91 300.23M174.71 302.83L179.91 302.83M177.31 300.23L177.31 305.43M186.57 302.32L191.77 307.53M186.57 307.53L191.77 302.32M186.57 304.93L191.77 304.93M189.17 302.32L189.17 307.53M198.43 303.79L203.62 308.99M198.43 308.99L203.62 303.79M198.43 306.39L203.62 306.39M201.03 303.79L201.03 308.99M210.28 297.51L215.48 302.71M210.28 302.71L215.48 297.51M210.28 300.11L215.48 300.11M212.88 297.51L212.88 302.71M222.14 296.47L227.34 301.67M222.14 301.67L227.34 296.47M222.14 299.07L227.34 299.07M224.74 296.47L224.74 301.67M234 304.84L239.2 310.04M234 310.04L239.2 304.84M234 307.44L239.2 307.44M236.6 304.84L236.6 310.04M245.86 305.88L251.06 311.08M245.86 311.08L251.06 305.88M245.86 308.48L251.06 308.48M248.46 305.88L248.46 311.08M257.72 301.28L262.92 306.48M257.72 306.48L262.92 301.28M257.72 303.88L262.92 303.88M260.32 301.28L260.32 306.48M269.57 309.44L274.78 314.64M269.57 314.64L274.78 309.44M269.57 312.04L274.78 312.04M272.18 309.44L272.18 314.64M281.43 312.16L286.63 317.36M281.43 317.36L286.63 312.16M281.43 314.76L286.63 314.76M284.03 312.16L284.03 317.36M293.29 309.44L298.49 314.64M293.29 314.64L298.49 309.44M293.29 312.04L298.49 312.04M295.89 309.44L295.89 314.64M305.15 308.6L310.35 313.8M305.15 313.8L310.35 308.6M305.15 311.2L310.35 311.2M307.75 308.6L307.75 313.8"/></g><path fill="none" stroke="#000" stroke-width="1.25" stroke-dasharray="1.15 1.95" stroke-dashoffset="-0.76" d="M23.15 304.93H307.75M23.15 284H307.75M23.15 263.08H307.75"/><path fill="none" stroke="#000" stroke-width="1.25" stroke-dasharray="1.15 1.95" stroke-dashoffset="-0.42" d="M70.58 242.15V325.85M118.02 242.15V325.85M165.45 242.15V325.85M212.88 242.15V325.85M260.32 242.15V325.85"/><path fill="none" stroke="#000" stroke-width="1.5" d="M23.15 315.39h3.6M307.75 315.39h-3.6M23.15 304.93h6M307.75 304.93h-6M23.15 294.46h3.6M307.75 294.46h-3.6M23.15 284h6M307.75 284h-6M23.15 273.54h3.6M307.75 273.54h-3.6M23.15 263.08h6M307.75 263.08h-6M23.15 252.61h3.6M307.75 252.61h-3.6M46.87 325.85v-3.6M46.87 242.15v3.6M70.58 325.85v-6M70.58 242.15v6M94.3 325.85v-3.6M94.3 242.15v3.6M118.02 325.85v-6M118.02 242.15v6M141.73 325.85v-3.6M141.73 242.15v3.6M165.45 325.85v-6M165.45 242.15v6M189.17 325.85v-3.6M189.17 242.15v3.6M212.88 325.85v-6M212.88 242.15v6M236.6 325.85v-3.6M236.6 242.15v3.6M260.32 325.85v-6M260.32 242.15v6M284.03 325.85v-3.6M284.03 242.15v3.6"/><g font-family="Liberation Sans" font-weight="bold" font-size="8.2" stroke="#000" stroke-width="0.25" fill="#000"><text transform="translate(17.95 328.7) scale(1.15 1)" text-anchor="end">0</text><text transform="translate(17.95 307.78) scale(1.15 1)" text-anchor="end">1</text><text transform="translate(17.95 286.85) scale(1.15 1)" text-anchor="end">2</text><text transform="translate(17.95 265.93) scale(1.15 1)" text-anchor="end">3</text><text transform="translate(17.95 245) scale(1.15 1)" text-anchor="end">4</text><text transform="translate(23.15 336.85) scale(1.15 1)" text-anchor="middle">0</text><text transform="translate(70.58 336.85) scale(1.15 1)" text-anchor="middle">4</text><text transform="translate(118.02 336.85) scale(1.15 1)" text-anchor="middle">8</text><text transform="translate(165.45 336.85) scale(1.15 1)" text-anchor="middle">12</text><text transform="translate(212.88 336.85) scale(1.15 1)" text-anchor="middle">16</text><text transform="translate(260.32 336.85) scale(1.15 1)" text-anchor="middle">20</text><text transform="translate(307.75 336.85) scale(1.15 1)" text-anchor="middle">24</text></g><text x="308.55" y="238.75" text-anchor="end" font-family="Liberation Serif" font-weight="bold" font-size="8.6" textLength="42.3" lengthAdjust="spacingAndGlyphs" fill="#000">SO2 (ppb)</text>
<g clip-path="url(#c2)"><polyline fill="none" stroke="#00ffff" stroke-width="1.3" stroke-linejoin="round" points="348.15,109.85 360.01,109.85 371.87,109.85 383.72,109.85 395.58,109.85 407.44,109.85 419.3,109.85 431.16,109.85 443.02,109.85 454.88,109.85 466.73,109.85 478.59,109.85 490.45,109.85 502.31,81.95 514.17,81.95 526.02,81.95 537.88,81.95 549.74,54.05 561.6,26.15 573.46,26.15 585.32,26.15 597.17,26.15 609.03,54.05 620.89,54.05 632.75,54.05"/><polyline fill="none" stroke="#00ff00" stroke-width="1.3" stroke-linejoin="round" points="348.15,54.05 360.01,54.05 371.87,54.05 383.72,54.05 395.58,54.05 407.44,54.05 419.3,54.05 431.16,54.05 443.02,54.05 454.88,54.05 466.73,54.05 478.59,54.05 490.45,54.05 502.31,54.05 514.17,54.05 526.02,54.05 537.88,54.05 549.74,26.15 561.6,26.15 573.46,26.15 585.32,54.05 597.17,54.05 609.03,54.05 620.89,26.15 632.75,26.15"/><polyline fill="none" stroke="#0000ff" stroke-width="1.3" stroke-linejoin="round" points="348.15,26.15 360.01,26.15 371.87,26.15 383.72,26.15 395.58,54.05 407.44,54.05 419.3,54.05 431.16,54.05 443.02,54.05 454.88,54.05 466.73,54.05 478.59,54.05 490.45,54.05 502.31,54.05 514.17,54.05 526.02,54.05 537.88,54.05 549.74,54.05 561.6,54.05 573.46,54.05 585.32,54.05 597.17,54.05 609.03,54.05 620.89,54.05 632.75,54.05"/><polyline fill="none" stroke="#ff0000" stroke-width="1.3" stroke-linejoin="round" points="348.15,54.05 360.01,54.05 371.87,54.05 383.72,54.05 395.58,54.05 407.44,81.95 419.3,81.95 431.16,81.95 443.02,81.95 454.88,54.05 466.73,54.05 478.59,54.05 490.45,54.05 502.31,54.05 514.17,54.05 526.02,54.05 537.88,54.05 549.74,54.05 561.6,54.05 573.46,54.05 585.32,54.05 597.17,54.05 609.03,81.95 620.89,81.95 632.75,81.95"/></g><rect x="348.15" y="26.15" width="284.6" height="83.7" fill="none" stroke="#000" stroke-width="1.8"/><g clip-path="url(#c2)"><path fill="none" stroke="#00ffff" stroke-width="1.1" d="M345.55 107.25L350.75 112.45M345.55 112.45L350.75 107.25M345.55 109.85L350.75 109.85M348.15 107.25L348.15 112.45M357.41 107.25L362.61 112.45M357.41 112.45L362.61 107.25M357.41 109.85L362.61 109.85M360.01 107.25L360.01 112.45M369.27 107.25L374.47 112.45M369.27 112.45L374.47 107.25M369.27 109.85L374.47 109.85M371.87 107.25L371.87 112.45M381.12 107.25L386.32 112.45M381.12 112.45L386.32 107.25M381.12 109.85L386.32 109.85M383.72 107.25L383.72 112.45M392.98 107.25L398.18 112.45M392.98 112.45L398.18 107.25M392.98 109.85L398.18 109.85M395.58 107.25L395.58 112.45M404.84 107.25L410.04 112.45M404.84 112.45L410.04 107.25M404.84 109.85L410.04 109.85M407.44 107.25L407.44 112.45M416.7 107.25L421.9 112.45M416.7 112.45L421.9 107.25M416.7 109.85L421.9 109.85M419.3 107.25L419.3 112.45M428.56 107.25L433.76 112.45M428.56 112.45L433.76 107.25M428.56 109.85L433.76 109.85M431.16 107.25L431.16 112.45M440.42 107.25L445.62 112.45M440.42 112.45L445.62 107.25M440.42 109.85L445.62 109.85M443.02 107.25L443.02 112.45M452.27 107.25L457.48 112.45M452.27 112.45L457.48 107.25M452.27 109.85L457.48 109.85M454.88 107.25L454.88 112.45M464.13 107.25L469.33 112.45M464.13 112.45L469.33 107.25M464.13 109.85L469.33 109.85M466.73 107.25L466.73 112.45M475.99 107.25L481.19 112.45M475.99 112.45L481.19 107.25M475.99 109.85L481.19 109.85M478.59 107.25L478.59 112.45M487.85 107.25L493.05 112.45M487.85 112.45L493.05 107.25M487.85 109.85L493.05 109.85M490.45 107.25L490.45 112.45M499.71 79.35L504.91 84.55M499.71 84.55L504.91 79.35M499.71 81.95L504.91 81.95M502.31 79.35L502.31 84.55M511.57 79.35L516.77 84.55M511.57 84.55L516.77 79.35M511.57 81.95L516.77 81.95M514.17 79.35L514.17 84.55M523.42 79.35L528.62 84.55M523.42 84.55L528.62 79.35M523.42 81.95L528.62 81.95M526.02 79.35L526.02 84.55M535.28 79.35L540.48 84.55M535.28 84.55L540.48 79.35M535.28 81.95L540.48 81.95M537.88 79.35L537.88 84.55M547.14 51.45L552.34 56.65M547.14 56.65L552.34 51.45M547.14 54.05L552.34 54.05M549.74 51.45L549.74 56.65M559 23.55L564.2 28.75M559 28.75L564.2 23.55M559 26.15L564.2 26.15M561.6 23.55L561.6 28.75M570.86 23.55L576.06 28.75M570.86 28.75L576.06 23.55M570.86 26.15L576.06 26.15M573.46 23.55L573.46 28.75M582.72 23.55L587.92 28.75M582.72 28.75L587.92 23.55M582.72 26.15L587.92 26.15M585.32 23.55L585.32 28.75M594.57 23.55L599.77 28.75M594.57 28.75L599.77 23.55M594.57 26.15L599.77 26.15M597.17 23.55L597.17 28.75M606.43 51.45L611.63 56.65M606.43 56.65L611.63 51.45M606.43 54.05L611.63 54.05M609.03 51.45L609.03 56.65M618.29 51.45L623.49 56.65M618.29 56.65L623.49 51.45M618.29 54.05L623.49 54.05M620.89 51.45L620.89 56.65M630.15 51.45L635.35 56.65M630.15 56.65L635.35 51.45M630.15 54.05L635.35 54.05M632.75 51.45L632.75 56.65"/><path fill="none" stroke="#00ff00" stroke-width="1.1" d="M345.55 51.45L350.75 56.65M345.55 56.65L350.75 51.45M345.55 54.05L350.75 54.05M348.15 51.45L348.15 56.65M357.41 51.45L362.61 56.65M357.41 56.65L362.61 51.45M357.41 54.05L362.61 54.05M360.01 51.45L360.01 56.65M369.27 51.45L374.47 56.65M369.27 56.65L374.47 51.45M369.27 54.05L374.47 54.05M371.87 51.45L371.87 56.65M381.12 51.45L386.32 56.65M381.12 56.65L386.32 51.45M381.12 54.05L386.32 54.05M383.72 51.45L383.72 56.65M392.98 51.45L398.18 56.65M392.98 56.65L398.18 51.45M392.98 54.05L398.18 54.05M395.58 51.45L395.58 56.65M404.84 51.45L410.04 56.65M404.84 56.65L410.04 51.45M404.84 54.05L410.04 54.05M407.44 51.45L407.44 56.65M416.7 51.45L421.9 56.65M416.7 56.65L421.9 51.45M416.7 54.05L421.9 54.05M419.3 51.45L419.3 56.65M428.56 51.45L433.76 56.65M428.56 56.65L433.76 51.45M428.56 54.05L433.76 54.05M431.16 51.45L431.16 56.65M440.42 51.45L445.62 56.65M440.42 56.65L445.62 51.45M440.42 54.05L445.62 54.05M443.02 51.45L443.02 56.65M452.27 51.45L457.48 56.65M452.27 56.65L457.48 51.45M452.27 54.05L457.48 54.05M454.88 51.45L454.88 56.65M464.13 51.45L469.33 56.65M464.13 56.65L469.33 51.45M464.13 54.05L469.33 54.05M466.73 51.45L466.73 56.65M475.99 51.45L481.19 56.65M475.99 56.65L481.19 51.45M475.99 54.05L481.19 54.05M478.59 51.45L478.59 56.65M487.85 51.45L493.05 56.65M487.85 56.65L493.05 51.45M487.85 54.05L493.05 54.05M490.45 51.45L490.45 56.65M499.71 51.45L504.91 56.65M499.71 56.65L504.91 51.45M499.71 54.05L504.91 54.05M502.31 51.45L502.31 56.65M511.57 51.45L516.77 56.65M511.57 56.65L516.77 51.45M511.57 54.05L516.77 54.05M514.17 51.45L514.17 56.65M523.42 51.45L528.62 56.65M523.42 56.65L528.62 51.45M523.42 54.05L528.62 54.05M526.02 51.45L526.02 56.65M535.28 51.45L540.48 56.65M535.28 56.65L540.48 51.45M535.28 54.05L540.48 54.05M537.88 51.45L537.88 56.65M547.14 23.55L552.34 28.75M547.14 28.75L552.34 23.55M547.14 26.15L552.34 26.15M549.74 23.55L549.74 28.75M559 23.55L564.2 28.75M559 28.75L564.2 23.55M559 26.15L564.2 26.15M561.6 23.55L561.6 28.75M570.86 23.55L576.06 28.75M570.86 28.75L576.06 23.55M570.86 26.15L576.06 26.15M573.46 23.55L573.46 28.75M582.72 51.45L587.92 56.65M582.72 56.65L587.92 51.45M582.72 54.05L587.92 54.05M585.32 51.45L585.32 56.65M594.57 51.45L599.77 56.65M594.57 56.65L599.77 51.45M594.57 54.05L599.77 54.05M597.17 51.45L597.17 56.65M606.43 51.45L611.63 56.65M606.43 56.65L611.63 51.45M606.43 54.05L611.63 54.05M609.03 51.45L609.03 56.65M618.29 23.55L623.49 28.75M618.29 28.75L623.49 23.55M618.29 26.15L623.49 26.15M620.89 23.55L620.89 28.75M630.15 23.55L635.35 28.75M630.15 28.75L635.35 23.55M630.15 26.15L635.35 26.15M632.75 23.55L632.75 28.75"/><path fill="none" stroke="#0000ff" stroke-width="1.1" d="M345.55 23.55L350.75 28.75M345.55 28.75L350.75 23.55M345.55 26.15L350.75 26.15M348.15 23.55L348.15 28.75M357.41 23.55L362.61 28.75M357.41 28.75L362.61 23.55M357.41 26.15L362.61 26.15M360.01 23.55L360.01 28.75M369.27 23.55L374.47 28.75M369.27 28.75L374.47 23.55M369.27 26.15L374.47 26.15M371.87 23.55L371.87 28.75M381.12 23.55L386.32 28.75M381.12 28.75L386.32 23.55M381.12 26.15L386.32 26.15M383.72 23.55L383.72 28.75M392.98 51.45L398.18 56.65M392.98 56.65L398.18 51.45M392.98 54.05L398.18 54.05M395.58 51.45L395.58 56.65M404.84 51.45L410.04 56.65M404.84 56.65L410.04 51.45M404.84 54.05L410.04 54.05M407.44 51.45L407.44 56.65M416.7 51.45L421.9 56.65M416.7 56.65L421.9 51.45M416.7 54.05L421.9 54.05M419.3 51.45L419.3 56.65M428.56 51.45L433.76 56.65M428.56 56.65L433.76 51.45M428.56 54.05L433.76 54.05M431.16 51.45L431.16 56.65M440.42 51.45L445.62 56.65M440.42 56.65L445.62 51.45M440.42 54.05L445.62 54.05M443.02 51.45L443.02 56.65M452.27 51.45L457.48 56.65M452.27 56.65L457.48 51.45M452.27 54.05L457.48 54.05M454.88 51.45L454.88 56.65M464.13 51.45L469.33 56.65M464.13 56.65L469.33 51.45M464.13 54.05L469.33 54.05M466.73 51.45L466.73 56.65M475.99 51.45L481.19 56.65M475.99 56.65L481.19 51.45M475.99 54.05L481.19 54.05M478.59 51.45L478.59 56.65M487.85 51.45L493.05 56.65M487.85 56.65L493.05 51.45M487.85 54.05L493.05 54.05M490.45 51.45L490.45 56.65M499.71 51.45L504.91 56.65M499.71 56.65L504.91 51.45M499.71 54.05L504.91 54.05M502.31 51.45L502.31 56.65M511.57 51.45L516.77 56.65M511.57 56.65L516.77 51.45M511.57 54.05L516.77 54.05M514.17 51.45L514.17 56.65M523.42 51.45L528.62 56.65M523.42 56.65L528.62 51.45M523.42 54.05L528.62 54.05M526.02 51.45L526.02 56.65M535.28 51.45L540.48 56.65M535.28 56.65L540.48 51.45M535.28 54.05L540.48 54.05M537.88 51.45L537.88 56.65M547.14 51.45L552.34 56.65M547.14 56.65L552.34 51.45M547.14 54.05L552.34 54.05M549.74 51.45L549.74 56.65M559 51.45L564.2 56.65M559 56.65L564.2 51.45M559 54.05L564.2 54.05M561.6 51.45L561.6 56.65M570.86 51.45L576.06 56.65M570.86 56.65L576.06 51.45M570.86 54.05L576.06 54.05M573.46 51.45L573.46 56.65M582.72 51.45L587.92 56.65M582.72 56.65L587.92 51.45M582.72 54.05L587.92 54.05M585.32 51.45L585.32 56.65M594.57 51.45L599.77 56.65M594.57 56.65L599.77 51.45M594.57 54.05L599.77 54.05M597.17 51.45L597.17 56.65M606.43 51.45L611.63 56.65M606.43 56.65L611.63 51.45M606.43 54.05L611.63 54.05M609.03 51.45L609.03 56.65M618.29 51.45L623.49 56.65M618.29 56.65L623.49 51.45M618.29 54.05L623.49 54.05M620.89 51.45L620.89 56.65M630.15 51.45L635.35 56.65M630.15 56.65L635.35 51.45M630.15 54.05L635.35 54.05M632.75 51.45L632.75 56.65"/><path fill="none" stroke="#ff0000" stroke-width="1.1" d="M345.55 51.45L350.75 56.65M345.55 56.65L350.75 51.45M345.55 54.05L350.75 54.05M348.15 51.45L348.15 56.65M357.41 51.45L362.61 56.65M357.41 56.65L362.61 51.45M357.41 54.05L362.61 54.05M360.01 51.45L360.01 56.65M369.27 51.45L374.47 56.65M369.27 56.65L374.47 51.45M369.27 54.05L374.47 54.05M371.87 51.45L371.87 56.65M381.12 51.45L386.32 56.65M381.12 56.65L386.32 51.45M381.12 54.05L386.32 54.05M383.72 51.45L383.72 56.65M392.98 51.45L398.18 56.65M392.98 56.65L398.18 51.45M392.98 54.05L398.18 54.05M395.58 51.45L395.58 56.65M404.84 79.35L410.04 84.55M404.84 84.55L410.04 79.35M404.84 81.95L410.04 81.95M407.44 79.35L407.44 84.55M416.7 79.35L421.9 84.55M416.7 84.55L421.9 79.35M416.7 81.95L421.9 81.95M419.3 79.35L419.3 84.55M428.56 79.35L433.76 84.55M428.56 84.55L433.76 79.35M428.56 81.95L433.76 81.95M431.16 79.35L431.16 84.55M440.42 79.35L445.62 84.55M440.42 84.55L445.62 79.35M440.42 81.95L445.62 81.95M443.02 79.35L443.02 84.55M452.27 51.45L457.48 56.65M452.27 56.65L457.48 51.45M452.27 54.05L457.48 54.05M454.88 51.45L454.88 56.65M464.13 51.45L469.33 56.65M464.13 56.65L469.33 51.45M464.13 54.05L469.33 54.05M466.73 51.45L466.73 56.65M475.99 51.45L481.19 56.65M475.99 56.65L481.19 51.45M475.99 54.05L481.19 54.05M478.59 51.45L478.59 56.65M487.85 51.45L493.05 56.65M487.85 56.65L493.05 51.45M487.85 54.05L493.05 54.05M490.45 51.45L490.45 56.65M499.71 51.45L504.91 56.65M499.71 56.65L504.91 51.45M499.71 54.05L504.91 54.05M502.31 51.45L502.31 56.65M511.57 51.45L516.77 56.65M511.57 56.65L516.77 51.45M511.57 54.05L516.77 54.05M514.17 51.45L514.17 56.65M523.42 51.45L528.62 56.65M523.42 56.65L528.62 51.45M523.42 54.05L528.62 54.05M526.02 51.45L526.02 56.65M535.28 51.45L540.48 56.65M535.28 56.65L540.48 51.45M535.28 54.05L540.48 54.05M537.88 51.45L537.88 56.65M547.14 51.45L552.34 56.65M547.14 56.65L552.34 51.45M547.14 54.05L552.34 54.05M549.74 51.45L549.74 56.65M559 51.45L564.2 56.65M559 56.65L564.2 51.45M559 54.05L564.2 54.05M561.6 51.45L561.6 56.65M570.86 51.45L576.06 56.65M570.86 56.65L576.06 51.45M570.86 54.05L576.06 54.05M573.46 51.45L573.46 56.65M582.72 51.45L587.92 56.65M582.72 56.65L587.92 51.45M582.72 54.05L587.92 54.05M585.32 51.45L585.32 56.65M594.57 51.45L599.77 56.65M594.57 56.65L599.77 51.45M594.57 54.05L599.77 54.05M597.17 51.45L597.17 56.65M606.43 79.35L611.63 84.55M606.43 84.55L611.63 79.35M606.43 81.95L611.63 81.95M609.03 79.35L609.03 84.55M618.29 79.35L623.49 84.55M618.29 84.55L623.49 79.35M618.29 81.95L623.49 81.95M620.89 79.35L620.89 84.55M630.15 79.35L635.35 84.55M630.15 84.55L635.35 79.35M630.15 81.95L635.35 81.95M632.75 79.35L632.75 84.55"/></g><path fill="none" stroke="#000" stroke-width="1.25" stroke-dasharray="1.15 1.95" stroke-dashoffset="-0.76" d="M348.15 95.9H632.75M348.15 81.95H632.75M348.15 68H632.75M348.15 54.05H632.75M348.15 40.1H632.75"/><path fill="none" stroke="#000" stroke-width="1.25" stroke-dasharray="1.15 1.95" stroke-dashoffset="-0.42" d="M395.58 26.15V109.85M443.02 26.15V109.85M490.45 26.15V109.85M537.88 26.15V109.85M585.32 26.15V109.85"/><path fill="none" stroke="#000" stroke-width="1.5" d="M348.15 102.88h3.6M632.75 102.88h-3.6M348.15 95.9h6M632.75 95.9h-6M348.15 88.92h3.6M632.75 88.92h-3.6M348.15 81.95h6M632.75 81.95h-6M348.15 74.97h3.6M632.75 74.97h-3.6M348.15 68h6M632.75 68h-6M348.15 61.02h3.6M632.75 61.02h-3.6M348.15 54.05h6M632.75 54.05h-6M348.15 47.07h3.6M632.75 47.07h-3.6M348.15 40.1h6M632.75 40.1h-6M348.15 33.12h3.6M632.75 33.12h-3.6M371.87 109.85v-3.6M371.87 26.15v3.6M395.58 109.85v-6M395.58 26.15v6M419.3 109.85v-3.6M419.3 26.15v3.6M443.02 109.85v-6M443.02 26.15v6M466.73 109.85v-3.6M466.73 26.15v3.6M490.45 109.85v-6M490.45 26.15v6M514.17 109.85v-3.6M514.17 26.15v3.6M537.88 109.85v-6M537.88 26.15v6M561.6 109.85v-3.6M561.6 26.15v3.6M585.32 109.85v-6M585.32 26.15v6M609.03 109.85v-3.6M609.03 26.15v3.6"/><g font-family="Liberation Sans" font-weight="bold" font-size="8.2" stroke="#000" stroke-width="0.25" fill="#000"><text transform="translate(342.95 112.7) scale(1.15 1)" text-anchor="end">2.0</text><text transform="translate(342.95 98.75) scale(1.15 1)" text-anchor="end">2.5</text><text transform="translate(342.95 84.8) scale(1.15 1)" text-anchor="end">3.0</text><text transform="translate(342.95 70.85) scale(1.15 1)" text-anchor="end">3.5</text><text transform="translate(342.95 56.9) scale(1.15 1)" text-anchor="end">4.0</text><text transform="translate(342.95 42.95) scale(1.15 1)" text-anchor="end">4.5</text><text transform="translate(342.95 29) scale(1.15 1)" text-anchor="end">5.0</text><text transform="translate(348.15 120.85) scale(1.15 1)" text-anchor="middle">0</text><text transform="translate(395.58 120.85) scale(1.15 1)" text-anchor="middle">4</text><text transform="translate(443.02 120.85) scale(1.15 1)" text-anchor="middle">8</text><text transform="translate(490.45 120.85) scale(1.15 1)" text-anchor="middle">12</text><text transform="translate(537.88 120.85) scale(1.15 1)" text-anchor="middle">16</text><text transform="translate(585.32 120.85) scale(1.15 1)" text-anchor="middle">20</text><text transform="translate(632.75 120.85) scale(1.15 1)" text-anchor="middle">24</text></g><text x="633.55" y="22.75" text-anchor="end" font-family="Liberation Serif" font-weight="bold" font-size="8.6" textLength="51.7" lengthAdjust="spacingAndGlyphs" fill="#000">AQHI (AQHI)</text>
<g clip-path="url(#c3)"><polyline fill="none" stroke="#00ffff" stroke-width="1.3" stroke-linejoin="round" points="348.15,205.57 360.01,202.51 371.87,201.53 383.72,203.9 395.58,204.6 407.44,192.74 419.3,197.76 431.16,202.92 443.02,205.02 454.88,196.93 466.73,196.23 478.59,199.02 490.45,192.04 502.31,188.83 514.17,180.46 526.02,171.12 537.88,170.7 549.74,171.12 561.6,143.92 573.46,136.1 585.32,157.45 597.17,174.19 609.03,171.12 620.89,157.45 632.75,159.54"/><polyline fill="none" stroke="#00ff00" stroke-width="1.3" stroke-linejoin="round" points="348.15,159.26 360.01,171.12 371.87,181.58 383.72,182.98 395.58,182.14 407.44,180.88 419.3,183.67 431.16,186.32 443.02,195.25 454.88,194.14 466.73,193.58 478.59,195.53 490.45,190.65 502.31,187.44 514.17,187.44 526.02,188.83 537.88,185.07 549.74,180.46 561.6,181.58 573.46,181.58 585.32,166.93 597.17,175.3 609.03,176.7 620.89,176.7 632.75,180.19"/><polyline fill="none" stroke="#0000ff" stroke-width="1.3" stroke-linejoin="round" points="348.15,180.19 360.01,182.14 371.87,183.67 383.72,187.16 395.58,188.56 407.44,190.65 419.3,187.86 431.16,185.77 443.02,178.37 454.88,174.61 466.73,169.44 478.59,173.21 490.45,176.28 502.31,176.7 514.17,180.19 526.02,182.98 537.88,185.07 549.74,183.67 561.6,179.49 573.46,178.79 585.32,183.67 597.17,187.16 609.03,194.14 620.89,196.93 632.75,196.93"/><polyline fill="none" stroke="#ff0000" stroke-width="1.3" stroke-linejoin="round" points="348.15,196.93 360.01,194.83 371.87,182.56 383.72,185.07 395.58,187.86 407.44,186.32 419.3,183.67 431.16,185.77 443.02,189.25 454.88,187.86 466.73,185.07 478.59,182.98 490.45,179.35 502.31,174.61 514.17,179.35 526.02,178.37 537.88,177.67 549.74,179.35 561.6,182.14 573.46,185.07 585.32,183.67 597.17,188.83 609.03,194.14 620.89,196.93 632.75,197.34"/></g><rect x="348.15" y="134.15" width="284.6" height="83.7" fill="none" stroke="#000" stroke-width="1.8"/><g clip-path="url(#c3)"><path fill="none" stroke="#00ffff" stroke-width="1.1" d="M345.55 202.97L350.75 208.17M345.55 208.17L350.75 202.97M345.55 205.57L350.75 205.57M348.15 202.97L348.15 208.17M357.41 199.91L362.61 205.11M357.41 205.11L362.61 199.91M357.41 202.51L362.61 202.51M360.01 199.91L360.01 205.11M369.27 198.93L374.47 204.13M369.27 204.13L374.47 198.93M369.27 201.53L374.47 201.53M371.87 198.93L371.87 204.13M381.12 201.3L386.32 206.5M381.12 206.5L386.32 201.3M381.12 203.9L386.32 203.9M383.72 201.3L383.72 206.5M392.98 202L398.18 207.2M392.98 207.2L398.18 202M392.98 204.6L398.18 204.6M395.58 202L395.58 207.2M404.84 190.14L410.04 195.34M404.84 195.34L410.04 190.14M404.84 192.74L410.04 192.74M407.44 190.14L407.44 195.34M416.7 195.16L421.9 200.36M416.7 200.36L421.9 195.16M416.7 197.76L421.9 197.76M419.3 195.16L419.3 200.36M428.56 200.32L433.76 205.52M428.56 205.52L433.76 200.32M428.56 202.92L433.76 202.92M431.16 200.32L431.16 205.52M440.42 202.42L445.62 207.62M440.42 207.62L445.62 202.42M440.42 205.02L445.62 205.02M443.02 202.42L443.02 207.62M452.27 194.33L457.48 199.53M452.27 199.53L457.48 194.33M452.27 196.93L457.48 196.93M454.88 194.33L454.88 199.53M464.13 193.63L469.33 198.83M464.13 198.83L469.33 193.63M464.13 196.23L469.33 196.23M466.73 193.63L466.73 198.83M475.99 196.42L481.19 201.62M475.99 201.62L481.19 196.42M475.99 199.02L481.19 199.02M478.59 196.42L478.59 201.62M487.85 189.44L493.05 194.64M487.85 194.64L493.05 189.44M487.85 192.04L493.05 192.04M490.45 189.44L490.45 194.64M499.71 186.23L504.91 191.43M499.71 191.43L504.91 186.23M499.71 188.83L504.91 188.83M502.31 186.23L502.31 191.43M511.57 177.86L516.77 183.06M511.57 183.06L516.77 177.86M511.57 180.46L516.77 180.46M514.17 177.86L514.17 183.06M523.42 168.52L528.62 173.72M523.42 173.72L528.62 168.52M523.42 171.12L528.62 171.12M526.02 168.52L526.02 173.72M535.28 168.1L540.48 173.3M535.28 173.3L540.48 168.1M535.28 170.7L540.48 170.7M537.88 168.1L537.88 173.3M547.14 168.52L552.34 173.72M547.14 173.72L552.34 168.52M547.14 171.12L552.34 171.12M549.74 168.52L549.74 173.72M559 141.32L564.2 146.52M559 146.52L564.2 141.32M559 143.92L564.2 143.92M561.6 141.32L561.6 146.52M570.86 133.5L576.06 138.7M570.86 138.7L576.06 133.5M570.86 136.1L576.06 136.1M573.46 133.5L573.46 138.7M582.72 154.85L587.92 160.05M582.72 160.05L587.92 154.85M582.72 157.45L587.92 157.45M585.32 154.85L585.32 160.05M594.57 171.59L599.77 176.79M594.57 176.79L599.77 171.59M594.57 174.19L599.77 174.19M597.17 171.59L597.17 176.79M606.43 168.52L611.63 173.72M606.43 173.72L611.63 168.52M606.43 171.12L611.63 171.12M609.03 168.52L609.03 173.72M618.29 154.85L623.49 160.05M618.29 160.05L623.49 154.85M618.29 157.45L623.49 157.45M620.89 154.85L620.89 160.05M630.15 156.94L635.35 162.14M630.15 162.14L635.35 156.94M630.15 159.54L635.35 159.54M632.75 156.94L632.75 162.14"/><path fill="none" stroke="#00ff00" stroke-width="1.1" d="M345.55 156.66L350.75 161.86M345.55 161.86L350.75 156.66M345.55 159.26L350.75 159.26M348.15 156.66L348.15 161.86M357.41 168.52L362.61 173.72M357.41 173.72L362.61 168.52M357.41 171.12L362.61 171.12M360.01 168.52L360.01 173.72M369.27 178.98L374.47 184.18M369.27 184.18L374.47 178.98M369.27 181.58L374.47 181.58M371.87 178.98L371.87 184.18M381.12 180.38L386.32 185.58M381.12 185.58L386.32 180.38M381.12 182.98L386.32 182.98M383.72 180.38L383.72 185.58M392.98 179.54L398.18 184.74M392.98 184.74L398.18 179.54M392.98 182.14L398.18 182.14M395.58 179.54L395.58 184.74M404.84 178.28L410.04 183.48M404.84 183.48L410.04 178.28M404.84 180.88L410.04 180.88M407.44 178.28L407.44 183.48M416.7 181.07L421.9 186.27M416.7 186.27L421.9 181.07M416.7 183.67L421.9 183.67M419.3 181.07L419.3 186.27M428.56 183.72L433.76 188.92M428.56 188.92L433.76 183.72M428.56 186.32L433.76 186.32M431.16 183.72L431.16 188.92M440.42 192.65L445.62 197.85M440.42 197.85L445.62 192.65M440.42 195.25L445.62 195.25M443.02 192.65L443.02 197.85M452.27 191.54L457.48 196.74M452.27 196.74L457.48 191.54M452.27 194.14L457.48 194.14M454.88 191.54L454.88 196.74M464.13 190.98L469.33 196.18M464.13 196.18L469.33 190.98M464.13 193.58L469.33 193.58M466.73 190.98L466.73 196.18M475.99 192.93L481.19 198.13M475.99 198.13L481.19 192.93M475.99 195.53L481.19 195.53M478.59 192.93L478.59 198.13M487.85 188.05L493.05 193.25M487.85 193.25L493.05 188.05M487.85 190.65L493.05 190.65M490.45 188.05L490.45 193.25M499.71 184.84L504.91 190.04M499.71 190.04L504.91 184.84M499.71 187.44L504.91 187.44M502.31 184.84L502.31 190.04M511.57 184.84L516.77 190.04M511.57 190.04L516.77 184.84M511.57 187.44L516.77 187.44M514.17 184.84L514.17 190.04M523.42 186.23L528.62 191.43M523.42 191.43L528.62 186.23M523.42 188.83L528.62 188.83M526.02 186.23L526.02 191.43M535.28 182.47L540.48 187.67M535.28 187.67L540.48 182.47M535.28 185.07L540.48 185.07M537.88 182.47L537.88 187.67M547.14 177.86L552.34 183.06M547.14 183.06L552.34 177.86M547.14 180.46L552.34 180.46M549.74 177.86L549.74 183.06M559 178.98L564.2 184.18M559 184.18L564.2 178.98M559 181.58L564.2 181.58M561.6 178.98L561.6 184.18M570.86 178.98L576.06 184.18M570.86 184.18L576.06 178.98M570.86 181.58L576.06 181.58M573.46 178.98L573.46 184.18M582.72 164.33L587.92 169.53M582.72 169.53L587.92 164.33M582.72 166.93L587.92 166.93M585.32 164.33L585.32 169.53M594.57 172.7L599.77 177.9M594.57 177.9L599.77 172.7M594.57 175.3L599.77 175.3M597.17 172.7L597.17 177.9M606.43 174.1L611.63 179.3M606.43 179.3L611.63 174.1M606.43 176.7L611.63 176.7M609.03 174.1L609.03 179.3M618.29 174.1L623.49 179.3M618.29 179.3L623.49 174.1M618.29 176.7L623.49 176.7M620.89 174.1L620.89 179.3M630.15 177.59L635.35 182.79M630.15 182.79L635.35 177.59M630.15 180.19L635.35 180.19M632.75 177.59L632.75 182.79"/><path fill="none" stroke="#0000ff" stroke-width="1.1" d="M345.55 177.59L350.75 182.79M345.55 182.79L350.75 177.59M345.55 180.19L350.75 180.19M348.15 177.59L348.15 182.79M357.41 179.54L362.61 184.74M357.41 184.74L362.61 179.54M357.41 182.14L362.61 182.14M360.01 179.54L360.01 184.74M369.27 181.07L374.47 186.27M369.27 186.27L374.47 181.07M369.27 183.67L374.47 183.67M371.87 181.07L371.87 186.27M381.12 184.56L386.32 189.76M381.12 189.76L386.32 184.56M381.12 187.16L386.32 187.16M383.72 184.56L383.72 189.76M392.98 185.96L398.18 191.16M392.98 191.16L398.18 185.96M392.98 188.56L398.18 188.56M395.58 185.96L395.58 191.16M404.84 188.05L410.04 193.25M404.84 193.25L410.04 188.05M404.84 190.65L410.04 190.65M407.44 188.05L407.44 193.25M416.7 185.26L421.9 190.46M416.7 190.46L421.9 185.26M416.7 187.86L421.9 187.86M419.3 185.26L419.3 190.46M428.56 183.17L433.76 188.37M428.56 188.37L433.76 183.17M428.56 185.77L433.76 185.77M431.16 183.17L431.16 188.37M440.42 175.77L445.62 180.97M440.42 180.97L445.62 175.77M440.42 178.37L445.62 178.37M443.02 175.77L443.02 180.97M452.27 172.01L457.48 177.21M452.27 177.21L457.48 172.01M452.27 174.61L457.48 174.61M454.88 172.01L454.88 177.21M464.13 166.84L469.33 172.04M464.13 172.04L469.33 166.84M464.13 169.44L469.33 169.44M466.73 166.84L466.73 172.04M475.99 170.61L481.19 175.81M475.99 175.81L481.19 170.61M475.99 173.21L481.19 173.21M478.59 170.61L478.59 175.81M487.85 173.68L493.05 178.88M487.85 178.88L493.05 173.68M487.85 176.28L493.05 176.28M490.45 173.68L490.45 178.88M499.71 174.1L504.91 179.3M499.71 179.3L504.91 174.1M499.71 176.7L504.91 176.7M502.31 174.1L502.31 179.3M511.57 177.59L516.77 182.79M511.57 182.79L516.77 177.59M511.57 180.19L516.77 180.19M514.17 177.59L514.17 182.79M523.42 180.38L528.62 185.58M523.42 185.58L528.62 180.38M523.42 182.98L528.62 182.98M526.02 180.38L526.02 185.58M535.28 182.47L540.48 187.67M535.28 187.67L540.48 182.47M535.28 185.07L540.48 185.07M537.88 182.47L537.88 187.67M547.14 181.07L552.34 186.27M547.14 186.27L552.34 181.07M547.14 183.67L552.34 183.67M549.74 181.07L549.74 186.27M559 176.89L564.2 182.09M559 182.09L564.2 176.89M559 179.49L564.2 179.49M561.6 176.89L561.6 182.09M570.86 176.19L576.06 181.39M570.86 181.39L576.06 176.19M570.86 178.79L576.06 178.79M573.46 176.19L573.46 181.39M582.72 181.07L587.92 186.27M582.72 186.27L587.92 181.07M582.72 183.67L587.92 183.67M585.32 181.07L585.32 186.27M594.57 184.56L599.77 189.76M594.57 189.76L599.77 184.56M594.57 187.16L599.77 187.16M597.17 184.56L597.17 189.76M606.43 191.54L611.63 196.74M606.43 196.74L611.63 191.54M606.43 194.14L611.63 194.14M609.03 191.54L609.03 196.74M618.29 194.33L623.49 199.53M618.29 199.53L623.49 194.33M618.29 196.93L623.49 196.93M620.89 194.33L620.89 199.53M630.15 194.33L635.35 199.53M630.15 199.53L635.35 194.33M630.15 196.93L635.35 196.93M632.75 194.33L632.75 199.53"/><path fill="none" stroke="#ff0000" stroke-width="1.1" d="M345.55 194.33L350.75 199.53M345.55 199.53L350.75 194.33M345.55 196.93L350.75 196.93M348.15 194.33L348.15 199.53M357.41 192.23L362.61 197.43M357.41 197.43L362.61 192.23M357.41 194.83L362.61 194.83M360.01 192.23L360.01 197.43M369.27 179.96L374.47 185.16M369.27 185.16L374.47 179.96M369.27 182.56L374.47 182.56M371.87 179.96L371.87 185.16M381.12 182.47L386.32 187.67M381.12 187.67L386.32 182.47M381.12 185.07L386.32 185.07M383.72 182.47L383.72 187.67M392.98 185.26L398.18 190.46M392.98 190.46L398.18 185.26M392.98 187.86L398.18 187.86M395.58 185.26L395.58 190.46M404.84 183.72L410.04 188.92M404.84 188.92L410.04 183.72M404.84 186.32L410.04 186.32M407.44 183.72L407.44 188.92M416.7 181.07L421.9 186.27M416.7 186.27L421.9 181.07M416.7 183.67L421.9 183.67M419.3 181.07L419.3 186.27M428.56 183.17L433.76 188.37M428.56 188.37L433.76 183.17M428.56 185.77L433.76 185.77M431.16 183.17L431.16 188.37M440.42 186.65L445.62 191.85M440.42 191.85L445.62 186.65M440.42 189.25L445.62 189.25M443.02 186.65L443.02 191.85M452.27 185.26L457.48 190.46M452.27 190.46L457.48 185.26M452.27 187.86L457.48 187.86M454.88 185.26L454.88 190.46M464.13 182.47L469.33 187.67M464.13 187.67L469.33 182.47M464.13 185.07L469.33 185.07M466.73 182.47L466.73 187.67M475.99 180.38L481.19 185.58M475.99 185.58L481.19 180.38M475.99 182.98L481.19 182.98M478.59 180.38L478.59 185.58M487.85 176.75L493.05 181.95M487.85 181.95L493.05 176.75M487.85 179.35L493.05 179.35M490.45 176.75L490.45 181.95M499.71 172.01L504.91 177.21M499.71 177.21L504.91 172.01M499.71 174.61L504.91 174.61M502.31 172.01L502.31 177.21M511.57 176.75L516.77 181.95M511.57 181.95L516.77 176.75M511.57 179.35L516.77 179.35M514.17 176.75L514.17 181.95M523.42 175.77L528.62 180.97M523.42 180.97L528.62 175.77M523.42 178.37L528.62 178.37M526.02 175.77L526.02 180.97M535.28 175.07L540.48 180.27M535.28 180.27L540.48 175.07M535.28 177.67L540.48 177.67M537.88 175.07L537.88 180.27M547.14 176.75L552.34 181.95M547.14 181.95L552.34 176.75M547.14 179.35L552.34 179.35M549.74 176.75L549.74 181.95M559 179.54L564.2 184.74M559 184.74L564.2 179.54M559 182.14L564.2 182.14M561.6 179.54L561.6 184.74M570.86 182.47L576.06 187.67M570.86 187.67L576.06 182.47M570.86 185.07L576.06 185.07M573.46 182.47L573.46 187.67M582.72 181.07L587.92 186.27M582.72 186.27L587.92 181.07M582.72 183.67L587.92 183.67M585.32 181.07L585.32 186.27M594.57 186.23L599.77 191.43M594.57 191.43L599.77 186.23M594.57 188.83L599.77 188.83M597.17 186.23L597.17 191.43M606.43 191.54L611.63 196.74M606.43 196.74L611.63 191.54M606.43 194.14L611.63 194.14M609.03 191.54L609.03 196.74M618.29 194.33L623.49 199.53M618.29 199.53L623.49 194.33M618.29 196.93L623.49 196.93M620.89 194.33L620.89 199.53M630.15 194.74L635.35 199.94M630.15 199.94L635.35 194.74M630.15 197.34L635.35 197.34M632.75 194.74L632.75 199.94"/></g><path fill="none" stroke="#000" stroke-width="1.25" stroke-dasharray="1.15 1.95" stroke-dashoffset="-0.76" d="M348.15 203.9H632.75M348.15 189.95H632.75M348.15 176H632.75M348.15 162.05H632.75M348.15 148.1H632.75"/><path fill="none" stroke="#000" stroke-width="1.25" stroke-dasharray="1.15 1.95" stroke-dashoffset="-0.42" d="M395.58 134.15V217.85M443.02 134.15V217.85M490.45 134.15V217.85M537.88 134.15V217.85M585.32 134.15V217.85"/><path fill="none" stroke="#000" stroke-width="1.5" d="M348.15 210.88h3.6M632.75 210.88h-3.6M348.15 203.9h6M632.75 203.9h-6M348.15 196.93h3.6M632.75 196.93h-3.6M348.15 189.95h6M632.75 189.95h-6M348.15 182.98h3.6M632.75 182.98h-3.6M348.15 176h6M632.75 176h-6M348.15 169.03h3.6M632.75 169.03h-3.6M348.15 162.05h6M632.75 162.05h-6M348.15 155.08h3.6M632.75 155.08h-3.6M348.15 148.1h6M632.75 148.1h-6M348.15 141.13h3.6M632.75 141.13h-3.6M371.87 217.85v-3.6M371.87 134.15v3.6M395.58 217.85v-6M395.58 134.15v6M419.3 217.85v-3.6M419.3 134.15v3.6M443.02 217.85v-6M443.02 134.15v6M466.73 217.85v-3.6M466.73 134.15v3.6M490.45 217.85v-6M490.45 134.15v6M514.17 217.85v-3.6M514.17 134.15v3.6M537.88 217.85v-6M537.88 134.15v6M561.6 217.85v-3.6M561.6 134.15v3.6M585.32 217.85v-6M585.32 134.15v6M609.03 217.85v-3.6M609.03 134.15v3.6"/><g font-family="Liberation Sans" font-weight="bold" font-size="8.2" stroke="#000" stroke-width="0.25" fill="#000"><text transform="translate(342.95 220.7) scale(1.15 1)" text-anchor="end">0</text><text transform="translate(342.95 206.75) scale(1.15 1)" text-anchor="end">10</text><text transform="translate(342.95 192.8) scale(1.15 1)" text-anchor="end">20</text><text transform="translate(342.95 178.85) scale(1.15 1)" text-anchor="end">30</text><text transform="translate(342.95 164.9) scale(1.15 1)" text-anchor="end">40</text><text transform="translate(342.95 150.95) scale(1.15 1)" text-anchor="end">50</text><text transform="translate(342.95 137) scale(1.15 1)" text-anchor="end">60</text><text transform="translate(348.15 228.85) scale(1.15 1)" text-anchor="middle">0</text><text transform="translate(395.58 228.85) scale(1.15 1)" text-anchor="middle">4</text><text transform="translate(443.02 228.85) scale(1.15 1)" text-anchor="middle">8</text><text transform="translate(490.45 228.85) scale(1.15 1)" text-anchor="middle">12</text><text transform="translate(537.88 228.85) scale(1.15 1)" text-anchor="middle">16</text><text transform="translate(585.32 228.85) scale(1.15 1)" text-anchor="middle">20</text><text transform="translate(632.75 228.85) scale(1.15 1)" text-anchor="middle">24</text></g><text x="633.55" y="130.75" text-anchor="end" font-family="Liberation Serif" font-weight="bold" font-size="8.6" textLength="51.7" lengthAdjust="spacingAndGlyphs" fill="#000">RSP (ug/m3)</text>
<g clip-path="url(#c4)"><polyline fill="none" stroke="#00ffff" stroke-width="1.3" stroke-linejoin="round" points="348.15,306.36 360.01,305.76 371.87,304.93 383.72,306.96 395.58,309.47 407.44,310.54 419.3,308.39 431.16,309.11 443.02,314.13 454.88,312.7 466.73,305.88 478.59,312.7 490.45,308.03 502.31,313.3 514.17,314.37 526.02,314.37 537.88,314.37 549.74,292.37 561.6,279.1 573.46,295.84 585.32,308.39 597.17,316.16 609.03,314.37 620.89,315.33 632.75,308.39"/><polyline fill="none" stroke="#00ff00" stroke-width="1.3" stroke-linejoin="round" points="348.15,307.44 360.01,285.32 371.87,267.98 383.72,262.96 395.58,264.99 407.44,268.58 419.3,271.68 431.16,276.95 443.02,277.54 454.88,276.35 466.73,270.73 478.59,273.84 490.45,264.99 502.31,267.5 514.17,267.14 526.02,264.87 537.88,263.91 549.74,274.2 561.6,274.2 573.46,283.28 585.32,283.64 597.17,277.42 609.03,266.54 620.89,251.84 632.75,251.84"/><polyline fill="none" stroke="#0000ff" stroke-width="1.3" stroke-linejoin="round" points="348.15,251.72 360.01,254.94 371.87,252.43 383.72,258.05 395.58,264.39 407.44,260.56 419.3,263.31 431.16,274.43 443.02,273.84 454.88,284.72 466.73,281.13 478.59,280.17 490.45,291.05 502.31,296.91 514.17,290.22 526.02,283.28 537.88,280.17 549.74,285.79 561.6,290.58 573.46,297.51 585.32,296.91 597.17,296.44 609.03,283.88 620.89,283.88 632.75,272.76"/><polyline fill="none" stroke="#ff0000" stroke-width="1.3" stroke-linejoin="round" points="348.15,272.76 360.01,272.16 371.87,277.54 383.72,279.1 407.44,283.28 419.3,291.65 431.16,290.22 443.02,304.21 454.88,303.25 466.73,292.13 478.59,295.24 490.45,300.02 502.31,286.87 514.17,276.35 526.02,283.88 537.88,293.8 549.74,292.25 561.6,295.84 573.46,302.77 585.32,307.79 597.17,296.91 609.03,288.9 620.89,298.59 632.75,294.4"/></g><rect x="348.15" y="242.15" width="284.6" height="83.7" fill="none" stroke="#000" stroke-width="1.8"/><g clip-path="url(#c4)"><path fill="none" stroke="#00ffff" stroke-width="1.1" d="M345.55 303.76L350.75 308.96M345.55 308.96L350.75 303.76M345.55 306.36L350.75 306.36M348.15 303.76L348.15 308.96M357.41 303.16L362.61 308.36M357.41 308.36L362.61 303.16M357.41 305.76L362.61 305.76M360.01 303.16L360.01 308.36M369.27 302.32L374.47 307.53M369.27 307.53L374.47 302.32M369.27 304.93L374.47 304.93M371.87 302.32L371.87 307.53M381.12 304.36L386.32 309.56M381.12 309.56L386.32 304.36M381.12 306.96L386.32 306.96M383.72 304.36L383.72 309.56M392.98 306.87L398.18 312.07M392.98 312.07L398.18 306.87M392.98 309.47L398.18 309.47M395.58 306.87L395.58 312.07M404.84 307.94L410.04 313.14M404.84 313.14L410.04 307.94M404.84 310.54L410.04 310.54M407.44 307.94L407.44 313.14M416.7 305.79L421.9 310.99M416.7 310.99L421.9 305.79M416.7 308.39L421.9 308.39M419.3 305.79L419.3 310.99M428.56 306.51L433.76 311.71M428.56 311.71L433.76 306.51M428.56 309.11L433.76 309.11M431.16 306.51L431.16 311.71M440.42 311.53L445.62 316.73M440.42 316.73L445.62 311.53M440.42 314.13L445.62 314.13M443.02 311.53L443.02 316.73M452.27 310.1L457.48 315.3M452.27 315.3L457.48 310.1M452.27 312.7L457.48 312.7M454.88 310.1L454.88 315.3M464.13 303.28L469.33 308.48M464.13 308.48L469.33 303.28M464.13 305.88L469.33 305.88M466.73 303.28L466.73 308.48M475.99 310.1L481.19 315.3M475.99 315.3L481.19 310.1M475.99 312.7L481.19 312.7M478.59 310.1L478.59 315.3M487.85 305.43L493.05 310.63M487.85 310.63L493.05 305.43M487.85 308.03L493.05 308.03M490.45 305.43L490.45 310.63M499.71 310.69L504.91 315.9M499.71 315.9L504.91 310.69M499.71 313.3L504.91 313.3M502.31 310.69L502.31 315.9M511.57 311.77L516.77 316.97M511.57 316.97L516.77 311.77M511.57 314.37L516.77 314.37M514.17 311.77L514.17 316.97M523.42 311.77L528.62 316.97M523.42 316.97L528.62 311.77M523.42 314.37L528.62 314.37M526.02 311.77L526.02 316.97M535.28 311.77L540.48 316.97M535.28 316.97L540.48 311.77M535.28 314.37L540.48 314.37M537.88 311.77L537.88 316.97M547.14 289.77L552.34 294.97M547.14 294.97L552.34 289.77M547.14 292.37L552.34 292.37M549.74 289.77L549.74 294.97M559 276.5L564.2 281.7M559 281.7L564.2 276.5M559 279.1L564.2 279.1M561.6 276.5L561.6 281.7M570.86 293.24L576.06 298.44M570.86 298.44L576.06 293.24M570.86 295.84L576.06 295.84M573.46 293.24L573.46 298.44M582.72 305.79L587.92 310.99M582.72 310.99L587.92 305.79M582.72 308.39L587.92 308.39M585.32 305.79L585.32 310.99M594.57 313.56L599.77 318.76M594.57 318.76L599.77 313.56M594.57 316.16L599.77 316.16M597.17 313.56L597.17 318.76M606.43 311.77L611.63 316.97M606.43 316.97L611.63 311.77M606.43 314.37L611.63 314.37M609.03 311.77L609.03 316.97M618.29 312.73L623.49 317.93M618.29 317.93L623.49 312.73M618.29 315.33L623.49 315.33M620.89 312.73L620.89 317.93M630.15 305.79L635.35 310.99M630.15 310.99L635.35 305.79M630.15 308.39L635.35 308.39M632.75 305.79L632.75 310.99"/><path fill="none" stroke="#00ff00" stroke-width="1.1" d="M345.55 304.84L350.75 310.04M345.55 310.04L350.75 304.84M345.55 307.44L350.75 307.44M348.15 304.84L348.15 310.04M357.41 282.72L362.61 287.92M357.41 287.92L362.61 282.72M357.41 285.32L362.61 285.32M360.01 282.72L360.01 287.92M369.27 265.38L374.47 270.58M369.27 270.58L374.47 265.38M369.27 267.98L374.47 267.98M371.87 265.38L371.87 270.58M381.12 260.36L386.32 265.56M381.12 265.56L386.32 260.36M381.12 262.96L386.32 262.96M383.72 260.36L383.72 265.56M392.98 262.39L398.18 267.59M392.98 267.59L398.18 262.39M392.98 264.99L398.18 264.99M395.58 262.39L395.58 267.59M404.84 265.98L410.04 271.18M404.84 271.18L410.04 265.98M404.84 268.58L410.04 268.58M407.44 265.98L407.44 271.18M416.7 269.08L421.9 274.28M416.7 274.28L421.9 269.08M416.7 271.68L421.9 271.68M419.3 269.08L419.3 274.28M428.56 274.35L433.76 279.55M428.56 279.55L433.76 274.35M428.56 276.95L433.76 276.95M431.16 274.35L431.16 279.55M440.42 274.94L445.62 280.14M440.42 280.14L445.62 274.94M440.42 277.54L445.62 277.54M443.02 274.94L443.02 280.14M452.27 273.75L457.48 278.95M452.27 278.95L457.48 273.75M452.27 276.35L457.48 276.35M454.88 273.75L454.88 278.95M464.13 268.13L469.33 273.33M464.13 273.33L469.33 268.13M464.13 270.73L469.33 270.73M466.73 268.13L466.73 273.33M475.99 271.24L481.19 276.44M475.99 276.44L481.19 271.24M475.99 273.84L481.19 273.84M478.59 271.24L478.59 276.44M487.85 262.39L493.05 267.59M487.85 267.59L493.05 262.39M487.85 264.99L493.05 264.99M490.45 262.39L490.45 267.59M499.71 264.9L504.91 270.1M499.71 270.1L504.91 264.9M499.71 267.5L504.91 267.5M502.31 264.9L502.31 270.1M511.57 264.54L516.77 269.74M511.57 269.74L516.77 264.54M511.57 267.14L516.77 267.14M514.17 264.54L514.17 269.74M523.42 262.27L528.62 267.47M523.42 267.47L528.62 262.27M523.42 264.87L528.62 264.87M526.02 262.27L526.02 267.47M535.28 261.31L540.48 266.51M535.28 266.51L540.48 261.31M535.28 263.91L540.48 263.91M537.88 261.31L537.88 266.51M547.14 271.6L552.34 276.8M547.14 276.8L552.34 271.6M547.14 274.2L552.34 274.2M549.74 271.6L549.74 276.8M559 271.6L564.2 276.8M559 276.8L564.2 271.6M559 274.2L564.2 274.2M561.6 271.6L561.6 276.8M570.86 280.68L576.06 285.88M570.86 285.88L576.06 280.68M570.86 283.28L576.06 283.28M573.46 280.68L573.46 285.88M582.72 281.04L587.92 286.24M582.72 286.24L587.92 281.04M582.72 283.64L587.92 283.64M585.32 281.04L585.32 286.24M594.57 274.82L599.77 280.02M594.57 280.02L599.77 274.82M594.57 277.42L599.77 277.42M597.17 274.82L597.17 280.02M606.43 263.94L611.63 269.14M606.43 269.14L611.63 263.94M606.43 266.54L611.63 266.54M609.03 263.94L609.03 269.14M618.29 249.24L623.49 254.44M618.29 254.44L623.49 249.24M618.29 251.84L623.49 251.84M620.89 249.24L620.89 254.44M630.15 249.24L635.35 254.44M630.15 254.44L635.35 249.24M630.15 251.84L635.35 251.84M632.75 249.24L632.75 254.44"/><path fill="none" stroke="#0000ff" stroke-width="1.1" d="M345.55 249.12L350.75 254.32M345.55 254.32L350.75 249.12M345.55 251.72L350.75 251.72M348.15 249.12L348.15 254.32M357.41 252.34L362.61 257.54M357.41 257.54L362.61 252.34M357.41 254.94L362.61 254.94M360.01 252.34L360.01 257.54M369.27 249.83L374.47 255.03M369.27 255.03L374.47 249.83M369.27 252.43L374.47 252.43M371.87 249.83L371.87 255.03M381.12 255.45L386.32 260.65M381.12 260.65L386.32 255.45M381.12 258.05L386.32 258.05M383.72 255.45L383.72 260.65M392.98 261.79L398.18 266.99M392.98 266.99L398.18 261.79M392.98 264.39L398.18 264.39M395.58 261.79L395.58 266.99M404.84 257.96L410.04 263.16M404.84 263.16L410.04 257.96M404.84 260.56L410.04 260.56M407.44 257.96L407.44 263.16M416.7 260.71L421.9 265.91M416.7 265.91L421.9 260.71M416.7 263.31L421.9 263.31M419.3 260.71L419.3 265.91M428.56 271.83L433.76 277.03M428.56 277.03L433.76 271.83M428.56 274.43L433.76 274.43M431.16 271.83L431.16 277.03M440.42 271.24L445.62 276.44M440.42 276.44L445.62 271.24M440.42 273.84L445.62 273.84M443.02 271.24L443.02 276.44M452.27 282.12L457.48 287.32M452.27 287.32L457.48 282.12M452.27 284.72L457.48 284.72M454.88 282.12L454.88 287.32M464.13 278.53L469.33 283.73M464.13 283.73L469.33 278.53M464.13 281.13L469.33 281.13M466.73 278.53L466.73 283.73M475.99 277.57L481.19 282.77M475.99 282.77L481.19 277.57M475.99 280.17L481.19 280.17M478.59 277.57L478.59 282.77M487.85 288.45L493.05 293.65M487.85 293.65L493.05 288.45M487.85 291.05L493.05 291.05M490.45 288.45L490.45 293.65M499.71 294.31L504.91 299.51M499.71 299.51L504.91 294.31M499.71 296.91L504.91 296.91M502.31 294.31L502.31 299.51M511.57 287.62L516.77 292.82M511.57 292.82L516.77 287.62M511.57 290.22L516.77 290.22M514.17 287.62L514.17 292.82M523.42 280.68L528.62 285.88M523.42 285.88L528.62 280.68M523.42 283.28L528.62 283.28M526.02 280.68L526.02 285.88M535.28 277.57L540.48 282.77M535.28 282.77L540.48 277.57M535.28 280.17L540.48 280.17M537.88 277.57L537.88 282.77M547.14 283.19L552.34 288.39M547.14 288.39L552.34 283.19M547.14 285.79L552.34 285.79M549.74 283.19L549.74 288.39M559 287.98L564.2 293.18M559 293.18L564.2 287.98M559 290.58L564.2 290.58M561.6 287.98L561.6 293.18M570.86 294.91L576.06 300.11M570.86 300.11L576.06 294.91M570.86 297.51L576.06 297.51M573.46 294.91L573.46 300.11M582.72 294.31L587.92 299.51M582.72 299.51L587.92 294.31M582.72 296.91L587.92 296.91M585.32 294.31L585.32 299.51M594.57 293.84L599.77 299.04M594.57 299.04L599.77 293.84M594.57 296.44L599.77 296.44M597.17 293.84L597.17 299.04M606.43 281.28L611.63 286.48M606.43 286.48L611.63 281.28M606.43 283.88L611.63 283.88M609.03 281.28L609.03 286.48M618.29 281.28L623.49 286.48M618.29 286.48L623.49 281.28M618.29 283.88L623.49 283.88M620.89 281.28L620.89 286.48M630.15 270.16L635.35 275.36M630.15 275.36L635.35 270.16M630.15 272.76L635.35 272.76M632.75 270.16L632.75 275.36"/><path fill="none" stroke="#ff0000" stroke-width="1.1" d="M345.55 270.16L350.75 275.36M345.55 275.36L350.75 270.16M345.55 272.76L350.75 272.76M348.15 270.16L348.15 275.36M357.41 269.56L362.61 274.76M357.41 274.76L362.61 269.56M357.41 272.16L362.61 272.16M360.01 269.56L360.01 274.76M369.27 274.94L374.47 280.14M369.27 280.14L374.47 274.94M369.27 277.54L374.47 277.54M371.87 274.94L371.87 280.14M381.12 276.5L386.32 281.7M381.12 281.7L386.32 276.5M381.12 279.1L386.32 279.1M383.72 276.5L383.72 281.7M404.84 280.68L410.04 285.88M404.84 285.88L410.04 280.68M404.84 283.28L410.04 283.28M407.44 280.68L407.44 285.88M416.7 289.05L421.9 294.25M416.7 294.25L421.9 289.05M416.7 291.65L421.9 291.65M419.3 289.05L419.3 294.25M428.56 287.62L433.76 292.82M428.56 292.82L433.76 287.62M428.56 290.22L433.76 290.22M431.16 287.62L431.16 292.82M440.42 301.61L445.62 306.81M440.42 306.81L445.62 301.61M440.42 304.21L445.62 304.21M443.02 301.61L443.02 306.81M452.27 300.65L457.48 305.85M452.27 305.85L457.48 300.65M452.27 303.25L457.48 303.25M454.88 300.65L454.88 305.85M464.13 289.53L469.33 294.73M464.13 294.73L469.33 289.53M464.13 292.13L469.33 292.13M466.73 289.53L466.73 294.73M475.99 292.64L481.19 297.84M475.99 297.84L481.19 292.64M475.99 295.24L481.19 295.24M478.59 292.64L478.59 297.84M487.85 297.42L493.05 302.62M487.85 302.62L493.05 297.42M487.85 300.02L493.05 300.02M490.45 297.42L490.45 302.62M499.71 284.27L504.91 289.47M499.71 289.47L504.91 284.27M499.71 286.87L504.91 286.87M502.31 284.27L502.31 289.47M511.57 273.75L516.77 278.95M511.57 278.95L516.77 273.75M511.57 276.35L516.77 276.35M514.17 273.75L514.17 278.95M523.42 281.28L528.62 286.48M523.42 286.48L528.62 281.28M523.42 283.88L528.62 283.88M526.02 281.28L526.02 286.48M535.28 291.2L540.48 296.4M535.28 296.4L540.48 291.2M535.28 293.8L540.48 293.8M537.88 291.2L537.88 296.4M547.14 289.65L552.34 294.85M547.14 294.85L552.34 289.65M547.14 292.25L552.34 292.25M549.74 289.65L549.74 294.85M559 293.24L564.2 298.44M559 298.44L564.2 293.24M559 295.84L564.2 295.84M561.6 293.24L561.6 298.44M570.86 300.17L576.06 305.37M570.86 305.37L576.06 300.17M570.86 302.77L576.06 302.77M573.46 300.17L573.46 305.37M582.72 305.19L587.92 310.39M582.72 310.39L587.92 305.19M582.72 307.79L587.92 307.79M585.32 305.19L585.32 310.39M594.57 294.31L599.77 299.51M594.57 299.51L599.77 294.31M594.57 296.91L599.77 296.91M597.17 294.31L597.17 299.51M606.43 286.3L611.63 291.5M606.43 291.5L611.63 286.3M606.43 288.9L611.63 288.9M609.03 286.3L609.03 291.5M618.29 295.99L623.49 301.19M618.29 301.19L623.49 295.99M618.29 298.59L623.49 298.59M620.89 295.99L620.89 301.19M630.15 291.8L635.35 297M630.15 297L635.35 291.8M630.15 294.4L635.35 294.4M632.75 291.8L632.75 297"/></g><path fill="none" stroke="#000" stroke-width="1.25" stroke-dasharray="1.15 1.95" stroke-dashoffset="-0.76" d="M348.15 313.89H632.75M348.15 301.94H632.75M348.15 289.98H632.75M348.15 278.02H632.75M348.15 266.06H632.75M348.15 254.11H632.75"/><path fill="none" stroke="#000" stroke-width="1.25" stroke-dasharray="1.15 1.95" stroke-dashoffset="-0.42" d="M395.58 242.15V325.85M443.02 242.15V325.85M490.45 242.15V325.85M537.88 242.15V325.85M585.32 242.15V325.85"/><path fill="none" stroke="#000" stroke-width="1.5" d="M348.15 319.87h3.6M632.75 319.87h-3.6M348.15 313.89h6M632.75 313.89h-6M348.15 307.91h3.6M632.75 307.91h-3.6M348.15 301.94h6M632.75 301.94h-6M348.15 295.96h3.6M632.75 295.96h-3.6M348.15 289.98h6M632.75 289.98h-6M348.15 284h3.6M632.75 284h-3.6M348.15 278.02h6M632.75 278.02h-6M348.15 272.04h3.6M632.75 272.04h-3.6M348.15 266.06h6M632.75 266.06h-6M348.15 260.09h3.6M632.75 260.09h-3.6M348.15 254.11h6M632.75 254.11h-6M348.15 248.13h3.6M632.75 248.13h-3.6M371.87 325.85v-3.6M371.87 242.15v3.6M395.58 325.85v-6M395.58 242.15v6M419.3 325.85v-3.6M419.3 242.15v3.6M443.02 325.85v-6M443.02 242.15v6M466.73 325.85v-3.6M466.73 242.15v3.6M490.45 325.85v-6M490.45 242.15v6M514.17 325.85v-3.6M514.17 242.15v3.6M537.88 325.85v-6M537.88 242.15v6M561.6 325.85v-3.6M561.6 242.15v3.6M585.32 325.85v-6M585.32 242.15v6M609.03 325.85v-3.6M609.03 242.15v3.6"/><g font-family="Liberation Sans" font-weight="bold" font-size="8.2" stroke="#000" stroke-width="0.25" fill="#000"><text transform="translate(342.95 328.7) scale(1.15 1)" text-anchor="end">0</text><text transform="translate(342.95 316.74) scale(1.15 1)" text-anchor="end">10</text><text transform="translate(342.95 304.79) scale(1.15 1)" text-anchor="end">20</text><text transform="translate(342.95 292.83) scale(1.15 1)" text-anchor="end">30</text><text transform="translate(342.95 280.87) scale(1.15 1)" text-anchor="end">40</text><text transform="translate(342.95 268.91) scale(1.15 1)" text-anchor="end">50</text><text transform="translate(342.95 256.96) scale(1.15 1)" text-anchor="end">60</text><text transform="translate(342.95 245) scale(1.15 1)" text-anchor="end">70</text><text transform="translate(348.15 336.85) scale(1.15 1)" text-anchor="middle">0</text><text transform="translate(395.58 336.85) scale(1.15 1)" text-anchor="middle">4</text><text transform="translate(443.02 336.85) scale(1.15 1)" text-anchor="middle">8</text><text transform="translate(490.45 336.85) scale(1.15 1)" text-anchor="middle">12</text><text transform="translate(537.88 336.85) scale(1.15 1)" text-anchor="middle">16</text><text transform="translate(585.32 336.85) scale(1.15 1)" text-anchor="middle">20</text><text transform="translate(632.75 336.85) scale(1.15 1)" text-anchor="middle">24</text></g><text x="633.55" y="238.75" text-anchor="end" font-family="Liberation Serif" font-weight="bold" font-size="8.6" textLength="37.6" lengthAdjust="spacingAndGlyphs" fill="#000">O3 (ppb)</text>
<g clip-path="url(#c5)"><polyline fill="none" stroke="#00ffff" stroke-width="1.3" stroke-linejoin="round" points="673.15,103.99 685.01,103.57 696.87,103.57 708.73,103.57 720.58,103.57 732.44,104.62 744.3,103.99 756.16,103.57 768.02,103.36 779.88,102.53 791.73,102.32 803.59,104.41 815.45,105.04 827.31,105.66 839.17,103.99 851.02,100.22 862.88,96.67 874.74,91.02 886.6,86.62 898.46,82.23 910.32,75.53 922.17,68.21 934.03,61.93 945.89,55.24 957.75,48.12"/><polyline fill="none" stroke="#00ff00" stroke-width="1.3" stroke-linejoin="round" points="673.15,47.49 685.01,41.63 696.87,39.54 708.73,39.54 720.58,39.96 732.44,35.15 744.3,35.78 756.16,35.78 768.02,35.15 779.88,35.78 791.73,36.82 803.59,37.24 815.45,38.91 827.31,41.01 839.17,44.77 851.02,48.33 862.88,53.56 874.74,58.79 886.6,62.56 898.46,67.79 910.32,71.35 922.17,76.37 934.03,82.86 945.89,89.97 957.75,97.71"/><polyline fill="none" stroke="#0000ff" stroke-width="1.3" stroke-linejoin="round" points="673.15,98.13 685.01,98.34 696.87,94.57 708.73,89.97 720.58,81.6 732.44,75.11 744.3,68.84 756.16,67.58 768.02,75.53 779.88,82.86 791.73,91.85 803.59,98.13 815.45,96.04 827.31,91.44 839.17,86 851.02,81.81 862.88,78.67 874.74,76.37 886.6,75.11 898.46,71.98 910.32,70.72 922.17,70.72 934.03,70.3 945.89,69.88 957.75,68.84"/><polyline fill="none" stroke="#ff0000" stroke-width="1.3" stroke-linejoin="round" points="673.15,69.26 685.01,68.84 696.87,68.84 708.73,67.16 720.58,66.12 732.44,62.98 744.3,61.51 756.16,60.26 768.02,60.26 779.88,57.33 791.73,56.07 803.59,55.65 815.45,54.61 827.31,53.56 839.17,56.07 851.02,58.79 862.88,58.79 874.74,57.33 886.6,56.07 898.46,57.75 910.32,59.21 922.17,58.17 934.03,58.37 945.89,58.37 957.75,57.33"/></g><rect x="673.15" y="26.15" width="284.6" height="83.7" fill="none" stroke="#000" stroke-width="1.8"/><g clip-path="url(#c5)"><path fill="none" stroke="#00ffff" stroke-width="1.1" d="M670.55 101.39L675.75 106.59M670.55 106.59L675.75 101.39M670.55 103.99L675.75 103.99M673.15 101.39L673.15 106.59M682.41 100.97L687.61 106.17M682.41 106.17L687.61 100.97M682.41 103.57L687.61 103.57M685.01 100.97L685.01 106.17M694.27 100.97L699.47 106.17M694.27 106.17L699.47 100.97M694.27 103.57L699.47 103.57M696.87 100.97L696.87 106.17M706.12 100.97L711.33 106.17M706.12 106.17L711.33 100.97M706.12 103.57L711.33 103.57M708.73 100.97L708.73 106.17M717.98 100.97L723.18 106.17M717.98 106.17L723.18 100.97M717.98 103.57L723.18 103.57M720.58 100.97L720.58 106.17M729.84 102.02L735.04 107.22M729.84 107.22L735.04 102.02M729.84 104.62L735.04 104.62M732.44 102.02L732.44 107.22M741.7 101.39L746.9 106.59M741.7 106.59L746.9 101.39M741.7 103.99L746.9 103.99M744.3 101.39L744.3 106.59M753.56 100.97L758.76 106.17M753.56 106.17L758.76 100.97M753.56 103.57L758.76 103.57M756.16 100.97L756.16 106.17M765.42 100.76L770.62 105.96M765.42 105.96L770.62 100.76M765.42 103.36L770.62 103.36M768.02 100.76L768.02 105.96M777.27 99.93L782.48 105.13M777.27 105.13L782.48 99.93M777.27 102.53L782.48 102.53M779.88 99.93L779.88 105.13M789.13 99.72L794.33 104.92M789.13 104.92L794.33 99.72M789.13 102.32L794.33 102.32M791.73 99.72L791.73 104.92M800.99 101.81L806.19 107.01M800.99 107.01L806.19 101.81M800.99 104.41L806.19 104.41M803.59 101.81L803.59 107.01M812.85 102.44L818.05 107.64M812.85 107.64L818.05 102.44M812.85 105.04L818.05 105.04M815.45 102.44L815.45 107.64M824.71 103.06L829.91 108.26M824.71 108.26L829.91 103.06M824.71 105.66L829.91 105.66M827.31 103.06L827.31 108.26M836.57 101.39L841.77 106.59M836.57 106.59L841.77 101.39M836.57 103.99L841.77 103.99M839.17 101.39L839.17 106.59M848.42 97.62L853.62 102.82M848.42 102.82L853.62 97.62M848.42 100.22L853.62 100.22M851.02 97.62L851.02 102.82M860.28 94.07L865.48 99.27M860.28 99.27L865.48 94.07M860.28 96.67L865.48 96.67M862.88 94.07L862.88 99.27M872.14 88.42L877.34 93.62M872.14 93.62L877.34 88.42M872.14 91.02L877.34 91.02M874.74 88.42L874.74 93.62M884 84.02L889.2 89.22M884 89.22L889.2 84.02M884 86.62L889.2 86.62M886.6 84.02L886.6 89.22M895.86 79.63L901.06 84.83M895.86 84.83L901.06 79.63M895.86 82.23L901.06 82.23M898.46 79.63L898.46 84.83M907.72 72.93L912.92 78.13M907.72 78.13L912.92 72.93M907.72 75.53L912.92 75.53M910.32 72.93L910.32 78.13M919.57 65.61L924.77 70.81M919.57 70.81L924.77 65.61M919.57 68.21L924.77 68.21M922.17 65.61L922.17 70.81M931.43 59.33L936.63 64.53M931.43 64.53L936.63 59.33M931.43 61.93L936.63 61.93M934.03 59.33L934.03 64.53M943.29 52.64L948.49 57.84M943.29 57.84L948.49 52.64M943.29 55.24L948.49 55.24M945.89 52.64L945.89 57.84M955.15 45.52L960.35 50.72M955.15 50.72L960.35 45.52M955.15 48.12L960.35 48.12M957.75 45.52L957.75 50.72"/><path fill="none" stroke="#00ff00" stroke-width="1.1" d="M670.55 44.89L675.75 50.09M670.55 50.09L675.75 44.89M670.55 47.49L675.75 47.49M673.15 44.89L673.15 50.09M682.41 39.03L687.61 44.23M682.41 44.23L687.61 39.03M682.41 41.63L687.61 41.63M685.01 39.03L685.01 44.23M694.27 36.94L699.47 42.14M694.27 42.14L699.47 36.94M694.27 39.54L699.47 39.54M696.87 36.94L696.87 42.14M706.12 36.94L711.33 42.14M706.12 42.14L711.33 36.94M706.12 39.54L711.33 39.54M708.73 36.94L708.73 42.14M717.98 37.36L723.18 42.56M717.98 42.56L723.18 37.36M717.98 39.96L723.18 39.96M720.58 37.36L720.58 42.56M729.84 32.55L735.04 37.75M729.84 37.75L735.04 32.55M729.84 35.15L735.04 35.15M732.44 32.55L732.44 37.75M741.7 33.18L746.9 38.38M741.7 38.38L746.9 33.18M741.7 35.78L746.9 35.78M744.3 33.18L744.3 38.38M753.56 33.18L758.76 38.38M753.56 38.38L758.76 33.18M753.56 35.78L758.76 35.78M756.16 33.18L756.16 38.38M765.42 32.55L770.62 37.75M765.42 37.75L770.62 32.55M765.42 35.15L770.62 35.15M768.02 32.55L768.02 37.75M777.27 33.18L782.48 38.38M777.27 38.38L782.48 33.18M777.27 35.78L782.48 35.78M779.88 33.18L779.88 38.38M789.13 34.22L794.33 39.42M789.13 39.42L794.33 34.22M789.13 36.82L794.33 36.82M791.73 34.22L791.73 39.42M800.99 34.64L806.19 39.84M800.99 39.84L806.19 34.64M800.99 37.24L806.19 37.24M803.59 34.64L803.59 39.84M812.85 36.31L818.05 41.51M812.85 41.51L818.05 36.31M812.85 38.91L818.05 38.91M815.45 36.31L815.45 41.51M824.71 38.41L829.91 43.61M824.71 43.61L829.91 38.41M824.71 41.01L829.91 41.01M827.31 38.41L827.31 43.61M836.57 42.17L841.77 47.37M836.57 47.37L841.77 42.17M836.57 44.77L841.77 44.77M839.17 42.17L839.17 47.37M848.42 45.73L853.62 50.93M848.42 50.93L853.62 45.73M848.42 48.33L853.62 48.33M851.02 45.73L851.02 50.93M860.28 50.96L865.48 56.16M860.28 56.16L865.48 50.96M860.28 53.56L865.48 53.56M862.88 50.96L862.88 56.16M872.14 56.19L877.34 61.39M872.14 61.39L877.34 56.19M872.14 58.79L877.34 58.79M874.74 56.19L874.74 61.39M884 59.96L889.2 65.16M884 65.16L889.2 59.96M884 62.56L889.2 62.56M886.6 59.96L886.6 65.16M895.86 65.19L901.06 70.39M895.86 70.39L901.06 65.19M895.86 67.79L901.06 67.79M898.46 65.19L898.46 70.39M907.72 68.75L912.92 73.95M907.72 73.95L912.92 68.75M907.72 71.35L912.92 71.35M910.32 68.75L910.32 73.95M919.57 73.77L924.77 78.97M919.57 78.97L924.77 73.77M919.57 76.37L924.77 76.37M922.17 73.77L922.17 78.97M931.43 80.26L936.63 85.46M931.43 85.46L936.63 80.26M931.43 82.86L936.63 82.86M934.03 80.26L934.03 85.46M943.29 87.37L948.49 92.57M943.29 92.57L948.49 87.37M943.29 89.97L948.49 89.97M945.89 87.37L945.89 92.57M955.15 95.11L960.35 100.31M955.15 100.31L960.35 95.11M955.15 97.71L960.35 97.71M957.75 95.11L957.75 100.31"/><path fill="none" stroke="#0000ff" stroke-width="1.1" d="M670.55 95.53L675.75 100.73M670.55 100.73L675.75 95.53M670.55 98.13L675.75 98.13M673.15 95.53L673.15 100.73M682.41 95.74L687.61 100.94M682.41 100.94L687.61 95.74M682.41 98.34L687.61 98.34M685.01 95.74L685.01 100.94M694.27 91.97L699.47 97.17M694.27 97.17L699.47 91.97M694.27 94.57L699.47 94.57M696.87 91.97L696.87 97.17M706.12 87.37L711.33 92.57M706.12 92.57L711.33 87.37M706.12 89.97L711.33 89.97M708.73 87.37L708.73 92.57M717.98 79L723.18 84.2M717.98 84.2L723.18 79M717.98 81.6L723.18 81.6M720.58 79L720.58 84.2M729.84 72.51L735.04 77.71M729.84 77.71L735.04 72.51M729.84 75.11L735.04 75.11M732.44 72.51L732.44 77.71M741.7 66.24L746.9 71.44M741.7 71.44L746.9 66.24M741.7 68.84L746.9 68.84M744.3 66.24L744.3 71.44M753.56 64.98L758.76 70.18M753.56 70.18L758.76 64.98M753.56 67.58L758.76 67.58M756.16 64.98L756.16 70.18M765.42 72.93L770.62 78.13M765.42 78.13L770.62 72.93M765.42 75.53L770.62 75.53M768.02 72.93L768.02 78.13M777.27 80.26L782.48 85.46M777.27 85.46L782.48 80.26M777.27 82.86L782.48 82.86M779.88 80.26L779.88 85.46M789.13 89.25L794.33 94.45M789.13 94.45L794.33 89.25M789.13 91.85L794.33 91.85M791.73 89.25L791.73 94.45M800.99 95.53L806.19 100.73M800.99 100.73L806.19 95.53M800.99 98.13L806.19 98.13M803.59 95.53L803.59 100.73M812.85 93.44L818.05 98.64M812.85 98.64L818.05 93.44M812.85 96.04L818.05 96.04M815.45 93.44L815.45 98.64M824.71 88.84L829.91 94.04M824.71 94.04L829.91 88.84M824.71 91.44L829.91 91.44M827.31 88.84L827.31 94.04M836.57 83.4L841.77 88.6M836.57 88.6L841.77 83.4M836.57 86L841.77 86M839.17 83.4L839.17 88.6M848.42 79.21L853.62 84.41M848.42 84.41L853.62 79.21M848.42 81.81L853.62 81.81M851.02 79.21L851.02 84.41M860.28 76.07L865.48 81.27M860.28 81.27L865.48 76.07M860.28 78.67L865.48 78.67M862.88 76.07L862.88 81.27M872.14 73.77L877.34 78.97M872.14 78.97L877.34 73.77M872.14 76.37L877.34 76.37M874.74 73.77L874.74 78.97M884 72.51L889.2 77.71M884 77.71L889.2 72.51M884 75.11L889.2 75.11M886.6 72.51L886.6 77.71M895.86 69.38L901.06 74.58M895.86 74.58L901.06 69.38M895.86 71.98L901.06 71.98M898.46 69.38L898.46 74.58M907.72 68.12L912.92 73.32M907.72 73.32L912.92 68.12M907.72 70.72L912.92 70.72M910.32 68.12L910.32 73.32M919.57 68.12L924.77 73.32M919.57 73.32L924.77 68.12M919.57 70.72L924.77 70.72M922.17 68.12L922.17 73.32M931.43 67.7L936.63 72.9M931.43 72.9L936.63 67.7M931.43 70.3L936.63 70.3M934.03 67.7L934.03 72.9M943.29 67.28L948.49 72.48M943.29 72.48L948.49 67.28M943.29 69.88L948.49 69.88M945.89 67.28L945.89 72.48M955.15 66.24L960.35 71.44M955.15 71.44L960.35 66.24M955.15 68.84L960.35 68.84M957.75 66.24L957.75 71.44"/><path fill="none" stroke="#ff0000" stroke-width="1.1" d="M670.55 66.66L675.75 71.86M670.55 71.86L675.75 66.66M670.55 69.26L675.75 69.26M673.15 66.66L673.15 71.86M682.41 66.24L687.61 71.44M682.41 71.44L687.61 66.24M682.41 68.84L687.61 68.84M685.01 66.24L685.01 71.44M694.27 66.24L699.47 71.44M694.27 71.44L699.47 66.24M694.27 68.84L699.47 68.84M696.87 66.24L696.87 71.44M706.12 64.56L711.33 69.76M706.12 69.76L711.33 64.56M706.12 67.16L711.33 67.16M708.73 64.56L708.73 69.76M717.98 63.52L723.18 68.72M717.98 68.72L723.18 63.52M717.98 66.12L723.18 66.12M720.58 63.52L720.58 68.72M729.84 60.38L735.04 65.58M729.84 65.58L735.04 60.38M729.84 62.98L735.04 62.98M732.44 60.38L732.44 65.58M741.7 58.91L746.9 64.11M741.7 64.11L746.9 58.91M741.7 61.51L746.9 61.51M744.3 58.91L744.3 64.11M753.56 57.66L758.76 62.86M753.56 62.86L758.76 57.66M753.56 60.26L758.76 60.26M756.16 57.66L756.16 62.86M765.42 57.66L770.62 62.86M765.42 62.86L770.62 57.66M765.42 60.26L770.62 60.26M768.02 57.66L768.02 62.86M777.27 54.73L782.48 59.93M777.27 59.93L782.48 54.73M777.27 57.33L782.48 57.33M779.88 54.73L779.88 59.93M789.13 53.47L794.33 58.67M789.13 58.67L794.33 53.47M789.13 56.07L794.33 56.07M791.73 53.47L791.73 58.67M800.99 53.05L806.19 58.25M800.99 58.25L806.19 53.05M800.99 55.65L806.19 55.65M803.59 53.05L803.59 58.25M812.85 52.01L818.05 57.21M812.85 57.21L818.05 52.01M812.85 54.61L818.05 54.61M815.45 52.01L815.45 57.21M824.71 50.96L829.91 56.16M824.71 56.16L829.91 50.96M824.71 53.56L829.91 53.56M827.31 50.96L827.31 56.16M836.57 53.47L841.77 58.67M836.57 58.67L841.77 53.47M836.57 56.07L841.77 56.07M839.17 53.47L839.17 58.67M848.42 56.19L853.62 61.39M848.42 61.39L853.62 56.19M848.42 58.79L853.62 58.79M851.02 56.19L851.02 61.39M860.28 56.19L865.48 61.39M860.28 61.39L865.48 56.19M860.28 58.79L865.48 58.79M862.88 56.19L862.88 61.39M872.14 54.73L877.34 59.93M872.14 59.93L877.34 54.73M872.14 57.33L877.34 57.33M874.74 54.73L874.74 59.93M884 53.47L889.2 58.67M884 58.67L889.2 53.47M884 56.07L889.2 56.07M886.6 53.47L886.6 58.67M895.86 55.15L901.06 60.35M895.86 60.35L901.06 55.15M895.86 57.75L901.06 57.75M898.46 55.15L898.46 60.35M907.72 56.61L912.92 61.81M907.72 61.81L912.92 56.61M907.72 59.21L912.92 59.21M910.32 56.61L910.32 61.81M919.57 55.57L924.77 60.77M919.57 60.77L924.77 55.57M919.57 58.17L924.77 58.17M922.17 55.57L922.17 60.77M931.43 55.77L936.63 60.97M931.43 60.97L936.63 55.77M931.43 58.37L936.63 58.37M934.03 55.77L934.03 60.97M943.29 55.77L948.49 60.97M943.29 60.97L948.49 55.77M943.29 58.37L948.49 58.37M945.89 55.77L945.89 60.97M955.15 54.73L960.35 59.93M955.15 59.93L960.35 54.73M955.15 57.33L960.35 57.33M957.75 54.73L957.75 59.93"/></g><path fill="none" stroke="#000" stroke-width="1.25" stroke-dasharray="1.15 1.95" stroke-dashoffset="-0.76" d="M673.15 99.39H957.75M673.15 88.92H957.75M673.15 78.46H957.75M673.15 68H957.75M673.15 57.54H957.75M673.15 47.07H957.75M673.15 36.61H957.75"/><path fill="none" stroke="#000" stroke-width="1.25" stroke-dasharray="1.15 1.95" stroke-dashoffset="-0.42" d="M720.58 26.15V109.85M768.02 26.15V109.85M815.45 26.15V109.85M862.88 26.15V109.85M910.32 26.15V109.85"/><path fill="none" stroke="#000" stroke-width="1.5" d="M673.15 104.62h3.6M957.75 104.62h-3.6M673.15 99.39h6M957.75 99.39h-6M673.15 94.16h3.6M957.75 94.16h-3.6M673.15 88.92h6M957.75 88.92h-6M673.15 83.69h3.6M957.75 83.69h-3.6M673.15 78.46h6M957.75 78.46h-6M673.15 73.23h3.6M957.75 73.23h-3.6M673.15 68h6M957.75 68h-6M673.15 62.77h3.6M957.75 62.77h-3.6M673.15 57.54h6M957.75 57.54h-6M673.15 52.31h3.6M957.75 52.31h-3.6M673.15 47.07h6M957.75 47.07h-6M673.15 41.84h3.6M957.75 41.84h-3.6M673.15 36.61h6M957.75 36.61h-6M673.15 31.38h3.6M957.75 31.38h-3.6M696.87 109.85v-3.6M696.87 26.15v3.6M720.58 109.85v-6M720.58 26.15v6M744.3 109.85v-3.6M744.3 26.15v3.6M768.02 109.85v-6M768.02 26.15v6M791.73 109.85v-3.6M791.73 26.15v3.6M815.45 109.85v-6M815.45 26.15v6M839.17 109.85v-3.6M839.17 26.15v3.6M862.88 109.85v-6M862.88 26.15v6M886.6 109.85v-3.6M886.6 26.15v3.6M910.32 109.85v-6M910.32 26.15v6M934.03 109.85v-3.6M934.03 26.15v3.6"/><g font-family="Liberation Sans" font-weight="bold" font-size="8.2" stroke="#000" stroke-width="0.25" fill="#000"><text transform="translate(667.95 112.7) scale(1.15 1)" text-anchor="end">40</text><text transform="translate(667.95 102.24) scale(1.15 1)" text-anchor="end">45</text><text transform="translate(667.95 91.77) scale(1.15 1)" text-anchor="end">50</text><text transform="translate(667.95 81.31) scale(1.15 1)" text-anchor="end">55</text><text transform="translate(667.95 70.85) scale(1.15 1)" text-anchor="end">60</text><text transform="translate(667.95 60.39) scale(1.15 1)" text-anchor="end">65</text><text transform="translate(667.95 49.92) scale(1.15 1)" text-anchor="end">70</text><text transform="translate(667.95 39.46) scale(1.15 1)" text-anchor="end">75</text><text transform="translate(667.95 29) scale(1.15 1)" text-anchor="end">80</text><text transform="translate(673.15 120.85) scale(1.15 1)" text-anchor="middle">0</text><text transform="translate(720.58 120.85) scale(1.15 1)" text-anchor="middle">4</text><text transform="translate(768.02 120.85) scale(1.15 1)" text-anchor="middle">8</text><text transform="translate(815.45 120.85) scale(1.15 1)" text-anchor="middle">12</text><text transform="translate(862.88 120.85) scale(1.15 1)" text-anchor="middle">16</text><text transform="translate(910.32 120.85) scale(1.15 1)" text-anchor="middle">20</text><text transform="translate(957.75 120.85) scale(1.15 1)" text-anchor="middle">24</text></g><text x="958.55" y="22.75" text-anchor="end" font-family="Liberation Serif" font-weight="bold" font-size="8.6" textLength="42.3" lengthAdjust="spacingAndGlyphs" fill="#000">AQI (AQI)</text>
<g clip-path="url(#c6)"><polyline fill="none" stroke="#00ffff" stroke-width="1.3" stroke-linejoin="round" points="673.15,205.63 685.01,201.44 696.87,200.44 708.73,203.12 720.58,206.8 732.44,196.26 744.3,198.26 756.16,205.3 768.02,204.63 779.88,196.26 791.73,198.93 803.59,199.77 815.45,193.07 827.31,189.39 839.17,183.03 851.02,178.01 862.88,177.34 874.74,177.84 886.6,150.05 898.46,140.68 910.32,160.6 922.17,178.34 934.03,173.15 945.89,159.43 957.75,161.1"/><polyline fill="none" stroke="#00ff00" stroke-width="1.3" stroke-linejoin="round" points="673.15,160.93 685.01,173.15 696.87,186.21 708.73,191.07 720.58,192.74 732.44,191.07 744.3,196.26 756.16,197.26 768.02,202.62 779.88,199.44 791.73,198.93 803.59,200.44 815.45,193.58 827.31,191.07 839.17,191.57 851.02,191.4 862.88,190.56 874.74,188.89 886.6,192.07 898.46,190.4 910.32,181.52 922.17,187.38 934.03,187.38 945.89,186.88 957.75,191.07"/><polyline fill="none" stroke="#0000ff" stroke-width="1.3" stroke-linejoin="round" points="673.15,191.4 685.01,194.08 696.87,195.25 708.73,196.59 720.58,195.59 732.44,196.26 744.3,194.75 756.16,194.08 768.02,186.88 779.88,186.38 791.73,185.71 803.59,188.89 815.45,190.4 827.31,189.89 839.17,189.89 851.02,193.07 862.88,193.58 874.74,192.41 886.6,191.57 898.46,191.4 910.32,192.41 922.17,194.75 934.03,198.93 945.89,201.11 957.75,201.44"/><polyline fill="none" stroke="#ff0000" stroke-width="1.3" stroke-linejoin="round" points="673.15,201.11 685.01,201.44 696.87,189.89 708.73,191.4 720.58,194.75 732.44,194.08 744.3,191.07 756.16,194.08 768.02,197.76 779.88,196.93 791.73,194.75 803.59,192.07 815.45,190.56 827.31,189.39 839.17,189.56 851.02,189.56 862.88,189.89 874.74,192.74 886.6,194.75 898.46,195.59 910.32,190.56 922.17,194.75 934.03,198.93 945.89,201.11 957.75,201.44"/></g><rect x="673.15" y="134.15" width="284.6" height="83.7" fill="none" stroke="#000" stroke-width="1.8"/><g clip-path="url(#c6)"><path fill="none" stroke="#00ffff" stroke-width="1.1" d="M670.55 203.03L675.75 208.23M670.55 208.23L675.75 203.03M670.55 205.63L675.75 205.63M673.15 203.03L673.15 208.23M682.41 198.84L687.61 204.04M682.41 204.04L687.61 198.84M682.41 201.44L687.61 201.44M685.01 198.84L685.01 204.04M694.27 197.84L699.47 203.04M694.27 203.04L699.47 197.84M694.27 200.44L699.47 200.44M696.87 197.84L696.87 203.04M706.12 200.52L711.33 205.72M706.12 205.72L711.33 200.52M706.12 203.12L711.33 203.12M708.73 200.52L708.73 205.72M717.98 204.2L723.18 209.4M717.98 209.4L723.18 204.2M717.98 206.8L723.18 206.8M720.58 204.2L720.58 209.4M729.84 193.66L735.04 198.86M729.84 198.86L735.04 193.66M729.84 196.26L735.04 196.26M732.44 193.66L732.44 198.86M741.7 195.66L746.9 200.86M741.7 200.86L746.9 195.66M741.7 198.26L746.9 198.26M744.3 195.66L744.3 200.86M753.56 202.7L758.76 207.9M753.56 207.9L758.76 202.7M753.56 205.3L758.76 205.3M756.16 202.7L756.16 207.9M765.42 202.03L770.62 207.23M765.42 207.23L770.62 202.03M765.42 204.63L770.62 204.63M768.02 202.03L768.02 207.23M777.27 193.66L782.48 198.86M777.27 198.86L782.48 193.66M777.27 196.26L782.48 196.26M779.88 193.66L779.88 198.86M789.13 196.33L794.33 201.53M789.13 201.53L794.33 196.33M789.13 198.93L794.33 198.93M791.73 196.33L791.73 201.53M800.99 197.17L806.19 202.37M800.99 202.37L806.19 197.17M800.99 199.77L806.19 199.77M803.59 197.17L803.59 202.37M812.85 190.47L818.05 195.67M812.85 195.67L818.05 190.47M812.85 193.07L818.05 193.07M815.45 190.47L815.45 195.67M824.71 186.79L829.91 191.99M824.71 191.99L829.91 186.79M824.71 189.39L829.91 189.39M827.31 186.79L827.31 191.99M836.57 180.43L841.77 185.63M836.57 185.63L841.77 180.43M836.57 183.03L841.77 183.03M839.17 180.43L839.17 185.63M848.42 175.41L853.62 180.61M848.42 180.61L853.62 175.41M848.42 178.01L853.62 178.01M851.02 175.41L851.02 180.61M860.28 174.74L865.48 179.94M860.28 179.94L865.48 174.74M860.28 177.34L865.48 177.34M862.88 174.74L862.88 179.94M872.14 175.24L877.34 180.44M872.14 180.44L877.34 175.24M872.14 177.84L877.34 177.84M874.74 175.24L874.74 180.44M884 147.45L889.2 152.65M884 152.65L889.2 147.45M884 150.05L889.2 150.05M886.6 147.45L886.6 152.65M895.86 138.08L901.06 143.28M895.86 143.28L901.06 138.08M895.86 140.68L901.06 140.68M898.46 138.08L898.46 143.28M907.72 158L912.92 163.2M907.72 163.2L912.92 158M907.72 160.6L912.92 160.6M910.32 158L910.32 163.2M919.57 175.74L924.77 180.94M919.57 180.94L924.77 175.74M919.57 178.34L924.77 178.34M922.17 175.74L922.17 180.94M931.43 170.55L936.63 175.75M931.43 175.75L936.63 170.55M931.43 173.15L936.63 173.15M934.03 170.55L934.03 175.75M943.29 156.83L948.49 162.03M943.29 162.03L948.49 156.83M943.29 159.43L948.49 159.43M945.89 156.83L945.89 162.03M955.15 158.5L960.35 163.7M955.15 163.7L960.35 158.5M955.15 161.1L960.35 161.1M957.75 158.5L957.75 163.7"/><path fill="none" stroke="#00ff00" stroke-width="1.1" d="M670.55 158.33L675.75 163.53M670.55 163.53L675.75 158.33M670.55 160.93L675.75 160.93M673.15 158.33L673.15 163.53M682.41 170.55L687.61 175.75M682.41 175.75L687.61 170.55M682.41 173.15L687.61 173.15M685.01 170.55L685.01 175.75M694.27 183.61L699.47 188.81M694.27 188.81L699.47 183.61M694.27 186.21L699.47 186.21M696.87 183.61L696.87 188.81M706.12 188.47L711.33 193.67M706.12 193.67L711.33 188.47M706.12 191.07L711.33 191.07M708.73 188.47L708.73 193.67M717.98 190.14L723.18 195.34M717.98 195.34L723.18 190.14M717.98 192.74L723.18 192.74M720.58 190.14L720.58 195.34M729.84 188.47L735.04 193.67M729.84 193.67L735.04 188.47M729.84 191.07L735.04 191.07M732.44 188.47L732.44 193.67M741.7 193.66L746.9 198.86M741.7 198.86L746.9 193.66M741.7 196.26L746.9 196.26M744.3 193.66L744.3 198.86M753.56 194.66L758.76 199.86M753.56 199.86L758.76 194.66M753.56 197.26L758.76 197.26M756.16 194.66L756.16 199.86M765.42 200.02L770.62 205.22M765.42 205.22L770.62 200.02M765.42 202.62L770.62 202.62M768.02 200.02L768.02 205.22M777.27 196.84L782.48 202.04M777.27 202.04L782.48 196.84M777.27 199.44L782.48 199.44M779.88 196.84L779.88 202.04M789.13 196.33L794.33 201.53M789.13 201.53L794.33 196.33M789.13 198.93L794.33 198.93M791.73 196.33L791.73 201.53M800.99 197.84L806.19 203.04M800.99 203.04L806.19 197.84M800.99 200.44L806.19 200.44M803.59 197.84L803.59 203.04M812.85 190.98L818.05 196.18M812.85 196.18L818.05 190.98M812.85 193.58L818.05 193.58M815.45 190.98L815.45 196.18M824.71 188.47L829.91 193.67M824.71 193.67L829.91 188.47M824.71 191.07L829.91 191.07M827.31 188.47L827.31 193.67M836.57 188.97L841.77 194.17M836.57 194.17L841.77 188.97M836.57 191.57L841.77 191.57M839.17 188.97L839.17 194.17M848.42 188.8L853.62 194M848.42 194L853.62 188.8M848.42 191.4L853.62 191.4M851.02 188.8L851.02 194M860.28 187.96L865.48 193.16M860.28 193.16L865.48 187.96M860.28 190.56L865.48 190.56M862.88 187.96L862.88 193.16M872.14 186.29L877.34 191.49M872.14 191.49L877.34 186.29M872.14 188.89L877.34 188.89M874.74 186.29L874.74 191.49M884 189.47L889.2 194.67M884 194.67L889.2 189.47M884 192.07L889.2 192.07M886.6 189.47L886.6 194.67M895.86 187.8L901.06 193M895.86 193L901.06 187.8M895.86 190.4L901.06 190.4M898.46 187.8L898.46 193M907.72 178.92L912.92 184.12M907.72 184.12L912.92 178.92M907.72 181.52L912.92 181.52M910.32 178.92L910.32 184.12M919.57 184.78L924.77 189.98M919.57 189.98L924.77 184.78M919.57 187.38L924.77 187.38M922.17 184.78L922.17 189.98M931.43 184.78L936.63 189.98M931.43 189.98L936.63 184.78M931.43 187.38L936.63 187.38M934.03 184.78L934.03 189.98M943.29 184.28L948.49 189.48M943.29 189.48L948.49 184.28M943.29 186.88L948.49 186.88M945.89 184.28L945.89 189.48M955.15 188.47L960.35 193.67M955.15 193.67L960.35 188.47M955.15 191.07L960.35 191.07M957.75 188.47L957.75 193.67"/><path fill="none" stroke="#0000ff" stroke-width="1.1" d="M670.55 188.8L675.75 194M670.55 194L675.75 188.8M670.55 191.4L675.75 191.4M673.15 188.8L673.15 194M682.41 191.48L687.61 196.68M682.41 196.68L687.61 191.48M682.41 194.08L687.61 194.08M685.01 191.48L685.01 196.68M694.27 192.65L699.47 197.85M694.27 197.85L699.47 192.65M694.27 195.25L699.47 195.25M696.87 192.65L696.87 197.85M706.12 193.99L711.33 199.19M706.12 199.19L711.33 193.99M706.12 196.59L711.33 196.59M708.73 193.99L708.73 199.19M717.98 192.99L723.18 198.19M717.98 198.19L723.18 192.99M717.98 195.59L723.18 195.59M720.58 192.99L720.58 198.19M729.84 193.66L735.04 198.86M729.84 198.86L735.04 193.66M729.84 196.26L735.04 196.26M732.44 193.66L732.44 198.86M741.7 192.15L746.9 197.35M741.7 197.35L746.9 192.15M741.7 194.75L746.9 194.75M744.3 192.15L744.3 197.35M753.56 191.48L758.76 196.68M753.56 196.68L758.76 191.48M753.56 194.08L758.76 194.08M756.16 191.48L756.16 196.68M765.42 184.28L770.62 189.48M765.42 189.48L770.62 184.28M765.42 186.88L770.62 186.88M768.02 184.28L768.02 189.48M777.27 183.78L782.48 188.98M777.27 188.98L782.48 183.78M777.27 186.38L782.48 186.38M779.88 183.78L779.88 188.98M789.13 183.11L794.33 188.31M789.13 188.31L794.33 183.11M789.13 185.71L794.33 185.71M791.73 183.11L791.73 188.31M800.99 186.29L806.19 191.49M800.99 191.49L806.19 186.29M800.99 188.89L806.19 188.89M803.59 186.29L803.59 191.49M812.85 187.8L818.05 193M812.85 193L818.05 187.8M812.85 190.4L818.05 190.4M815.45 187.8L815.45 193M824.71 187.29L829.91 192.49M824.71 192.49L829.91 187.29M824.71 189.89L829.91 189.89M827.31 187.29L827.31 192.49M836.57 187.29L841.77 192.49M836.57 192.49L841.77 187.29M836.57 189.89L841.77 189.89M839.17 187.29L839.17 192.49M848.42 190.47L853.62 195.67M848.42 195.67L853.62 190.47M848.42 193.07L853.62 193.07M851.02 190.47L851.02 195.67M860.28 190.98L865.48 196.18M860.28 196.18L865.48 190.98M860.28 193.58L865.48 193.58M862.88 190.98L862.88 196.18M872.14 189.81L877.34 195.01M872.14 195.01L877.34 189.81M872.14 192.41L877.34 192.41M874.74 189.81L874.74 195.01M884 188.97L889.2 194.17M884 194.17L889.2 188.97M884 191.57L889.2 191.57M886.6 188.97L886.6 194.17M895.86 188.8L901.06 194M895.86 194L901.06 188.8M895.86 191.4L901.06 191.4M898.46 188.8L898.46 194M907.72 189.81L912.92 195.01M907.72 195.01L912.92 189.81M907.72 192.41L912.92 192.41M910.32 189.81L910.32 195.01M919.57 192.15L924.77 197.35M919.57 197.35L924.77 192.15M919.57 194.75L924.77 194.75M922.17 192.15L922.17 197.35M931.43 196.33L936.63 201.53M931.43 201.53L936.63 196.33M931.43 198.93L936.63 198.93M934.03 196.33L934.03 201.53M943.29 198.51L948.49 203.71M943.29 203.71L948.49 198.51M943.29 201.11L948.49 201.11M945.89 198.51L945.89 203.71M955.15 198.84L960.35 204.04M955.15 204.04L960.35 198.84M955.15 201.44L960.35 201.44M957.75 198.84L957.75 204.04"/><path fill="none" stroke="#ff0000" stroke-width="1.1" d="M670.55 198.51L675.75 203.71M670.55 203.71L675.75 198.51M670.55 201.11L675.75 201.11M673.15 198.51L673.15 203.71M682.41 198.84L687.61 204.04M682.41 204.04L687.61 198.84M682.41 201.44L687.61 201.44M685.01 198.84L685.01 204.04M694.27 187.29L699.47 192.49M694.27 192.49L699.47 187.29M694.27 189.89L699.47 189.89M696.87 187.29L696.87 192.49M706.12 188.8L711.33 194M706.12 194L711.33 188.8M706.12 191.4L711.33 191.4M708.73 188.8L708.73 194M717.98 192.15L723.18 197.35M717.98 197.35L723.18 192.15M717.98 194.75L723.18 194.75M720.58 192.15L720.58 197.35M729.84 191.48L735.04 196.68M729.84 196.68L735.04 191.48M729.84 194.08L735.04 194.08M732.44 191.48L732.44 196.68M741.7 188.47L746.9 193.67M741.7 193.67L746.9 188.47M741.7 191.07L746.9 191.07M744.3 188.47L744.3 193.67M753.56 191.48L758.76 196.68M753.56 196.68L758.76 191.48M753.56 194.08L758.76 194.08M756.16 191.48L756.16 196.68M765.42 195.16L770.62 200.36M765.42 200.36L770.62 195.16M765.42 197.76L770.62 197.76M768.02 195.16L768.02 200.36M777.27 194.33L782.48 199.53M777.27 199.53L782.48 194.33M777.27 196.93L782.48 196.93M779.88 194.33L779.88 199.53M789.13 192.15L794.33 197.35M789.13 197.35L794.33 192.15M789.13 194.75L794.33 194.75M791.73 192.15L791.73 197.35M800.99 189.47L806.19 194.67M800.99 194.67L806.19 189.47M800.99 192.07L806.19 192.07M803.59 189.47L803.59 194.67M812.85 187.96L818.05 193.16M812.85 193.16L818.05 187.96M812.85 190.56L818.05 190.56M815.45 187.96L815.45 193.16M824.71 186.79L829.91 191.99M824.71 191.99L829.91 186.79M824.71 189.39L829.91 189.39M827.31 186.79L827.31 191.99M836.57 186.96L841.77 192.16M836.57 192.16L841.77 186.96M836.57 189.56L841.77 189.56M839.17 186.96L839.17 192.16M848.42 186.96L853.62 192.16M848.42 192.16L853.62 186.96M848.42 189.56L853.62 189.56M851.02 186.96L851.02 192.16M860.28 187.29L865.48 192.49M860.28 192.49L865.48 187.29M860.28 189.89L865.48 189.89M862.88 187.29L862.88 192.49M872.14 190.14L877.34 195.34M872.14 195.34L877.34 190.14M872.14 192.74L877.34 192.74M874.74 190.14L874.74 195.34M884 192.15L889.2 197.35M884 197.35L889.2 192.15M884 194.75L889.2 194.75M886.6 192.15L886.6 197.35M895.86 192.99L901.06 198.19M895.86 198.19L901.06 192.99M895.86 195.59L901.06 195.59M898.46 192.99L898.46 198.19M907.72 187.96L912.92 193.16M907.72 193.16L912.92 187.96M907.72 190.56L912.92 190.56M910.32 187.96L910.32 193.16M919.57 192.15L924.77 197.35M919.57 197.35L924.77 192.15M919.57 194.75L924.77 194.75M922.17 192.15L922.17 197.35M931.43 196.33L936.63 201.53M931.43 201.53L936.63 196.33M931.43 198.93L936.63 198.93M934.03 196.33L934.03 201.53M943.29 198.51L948.49 203.71M943.29 203.71L948.49 198.51M943.29 201.11L948.49 201.11M945.89 198.51L945.89 203.71M955.15 198.84L960.35 204.04M955.15 204.04L960.35 198.84M955.15 201.44L960.35 201.44M957.75 198.84L957.75 204.04"/></g><path fill="none" stroke="#000" stroke-width="1.25" stroke-dasharray="1.15 1.95" stroke-dashoffset="-0.76" d="M673.15 201.11H957.75M673.15 184.37H957.75M673.15 167.63H957.75M673.15 150.89H957.75"/><path fill="none" stroke="#000" stroke-width="1.25" stroke-dasharray="1.15 1.95" stroke-dashoffset="-0.42" d="M720.58 134.15V217.85M768.02 134.15V217.85M815.45 134.15V217.85M862.88 134.15V217.85M910.32 134.15V217.85"/><path fill="none" stroke="#000" stroke-width="1.5" d="M673.15 209.48h3.6M957.75 209.48h-3.6M673.15 201.11h6M957.75 201.11h-6M673.15 192.74h3.6M957.75 192.74h-3.6M673.15 184.37h6M957.75 184.37h-6M673.15 176h3.6M957.75 176h-3.6M673.15 167.63h6M957.75 167.63h-6M673.15 159.26h3.6M957.75 159.26h-3.6M673.15 150.89h6M957.75 150.89h-6M673.15 142.52h3.6M957.75 142.52h-3.6M696.87 217.85v-3.6M696.87 134.15v3.6M720.58 217.85v-6M720.58 134.15v6M744.3 217.85v-3.6M744.3 134.15v3.6M768.02 217.85v-6M768.02 134.15v6M791.73 217.85v-3.6M791.73 134.15v3.6M815.45 217.85v-6M815.45 134.15v6M839.17 217.85v-3.6M839.17 134.15v3.6M862.88 217.85v-6M862.88 134.15v6M886.6 217.85v-3.6M886.6 134.15v3.6M910.32 217.85v-6M910.32 134.15v6M934.03 217.85v-3.6M934.03 134.15v3.6"/><g font-family="Liberation Sans" font-weight="bold" font-size="8.2" stroke="#000" stroke-width="0.25" fill="#000"><text transform="translate(667.95 220.7) scale(1.15 1)" text-anchor="end">0</text><text transform="translate(667.95 203.96) scale(1.15 1)" text-anchor="end">10</text><text transform="translate(667.95 187.22) scale(1.15 1)" text-anchor="end">20</text><text transform="translate(667.95 170.48) scale(1.15 1)" text-anchor="end">30</text><text transform="translate(667.95 153.74) scale(1.15 1)" text-anchor="end">40</text><text transform="translate(667.95 137) scale(1.15 1)" text-anchor="end">50</text><text transform="translate(673.15 228.85) scale(1.15 1)" text-anchor="middle">0</text><text transform="translate(720.58 228.85) scale(1.15 1)" text-anchor="middle">4</text><text transform="translate(768.02 228.85) scale(1.15 1)" text-anchor="middle">8</text><text transform="translate(815.45 228.85) scale(1.15 1)" text-anchor="middle">12</text><text transform="translate(862.88 228.85) scale(1.15 1)" text-anchor="middle">16</text><text transform="translate(910.32 228.85) scale(1.15 1)" text-anchor="middle">20</text><text transform="translate(957.75 228.85) scale(1.15 1)" text-anchor="middle">24</text></g><text x="958.55" y="130.75" text-anchor="end" font-family="Liberation Serif" font-weight="bold" font-size="8.6" textLength="51.7" lengthAdjust="spacingAndGlyphs" fill="#000">FSP (ug/m3)</text>
</svg></body></html>
